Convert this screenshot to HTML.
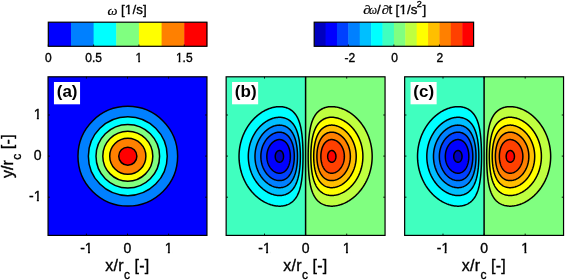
<!DOCTYPE html>
<html><head><meta charset="utf-8"><style>
html,body{margin:0;padding:0;background:#fff;width:566px;height:280px;overflow:hidden}
svg{display:block;font-family:"Liberation Sans",sans-serif;will-change:transform}
text{stroke:#000;stroke-width:0.35px}
</style></head><body>
<svg width="566" height="280" viewBox="0 0 566 280">
<rect width="566" height="280" fill="#fff"/>
<rect x="48.05" y="76.80" width="158.90" height="158.60" fill="#0000ff"/>
<circle cx="127.80" cy="156.20" r="49.83" fill="#0080ff" stroke="#000" stroke-width="1.5"/>
<circle cx="127.80" cy="156.20" r="39.43" fill="#00ffff" stroke="#000" stroke-width="1.5"/>
<circle cx="127.80" cy="156.20" r="31.80" fill="#80ff80" stroke="#000" stroke-width="1.5"/>
<circle cx="127.80" cy="156.20" r="25.01" fill="#ffff00" stroke="#000" stroke-width="1.5"/>
<circle cx="127.80" cy="156.20" r="18.07" fill="#ff8000" stroke="#000" stroke-width="1.5"/>
<circle cx="127.80" cy="156.20" r="9.07" fill="#ff0000" stroke="#000" stroke-width="1.5"/>
<rect x="226.15" y="76.80" width="79.45" height="158.60" fill="#40ffbf"/>
<rect x="305.60" y="76.80" width="79.45" height="158.60" fill="#80ff80"/>
<path d="M334.14,206.03 333.34,206.09 332.55,206.13 331.75,206.15 330.96,206.14 330.16,206.10 329.37,206.04 328.77,205.97 327.97,205.85 327.38,205.75 326.77,205.62 325.98,205.43 325.39,205.26 324.79,205.07 324.19,204.86 323.60,204.63 323.13,204.43 322.60,204.18 322.01,203.88 321.55,203.63 321.01,203.32 320.57,203.04 320.02,202.66 319.62,202.37 319.20,202.04 318.72,201.64 318.27,201.25 317.85,200.85 317.45,200.45 317.08,200.05 316.73,199.66 316.39,199.26 316.04,198.82 315.64,198.29 315.35,197.87 315.05,197.42 314.70,196.87 314.45,196.46 314.12,195.88 313.85,195.39 313.60,194.88 313.31,194.29 313.06,193.74 312.86,193.28 312.61,192.69 312.38,192.10 312.16,191.50 311.95,190.90 311.75,190.31 311.56,189.71 311.38,189.11 311.21,188.52 311.05,187.92 310.87,187.21 310.71,186.53 310.57,185.93 310.44,185.34 310.27,184.54 310.16,183.94 310.05,183.35 309.91,182.55 309.81,181.96 309.68,181.16 309.60,180.56 309.48,179.77 309.40,179.17 309.30,178.38 309.23,177.78 309.14,176.98 309.08,176.39 309.00,175.59 308.92,174.80 308.87,174.20 308.80,173.40 308.74,172.61 308.68,171.81 308.64,171.22 308.59,170.42 308.54,169.63 308.50,168.83 308.47,168.23 308.43,167.44 308.39,166.64 308.36,165.85 308.33,165.05 308.31,164.26 308.28,163.56 308.27,162.86 308.25,162.07 308.23,161.27 308.22,160.48 308.21,159.68 308.20,158.89 308.19,158.09 308.19,157.29 308.18,156.50 308.19,155.70 308.19,154.91 308.19,154.11 308.20,153.32 308.21,152.52 308.23,151.73 308.24,150.93 308.26,150.14 308.28,149.34 308.30,148.74 308.33,147.95 308.35,147.15 308.39,146.36 308.42,145.56 308.46,144.77 308.49,144.17 308.53,143.37 308.58,142.58 308.63,141.78 308.68,141.00 308.73,140.39 308.79,139.60 308.85,138.80 308.91,138.20 308.98,137.41 309.06,136.61 309.12,136.02 309.21,135.22 309.28,134.62 309.38,133.83 309.48,133.07 309.57,132.44 309.68,131.69 309.78,131.04 309.88,130.44 310.01,129.65 310.12,129.05 310.27,128.27 310.40,127.66 310.52,127.07 310.67,126.42 310.85,125.67 311.00,125.08 311.16,124.48 311.33,123.88 311.50,123.29 311.69,122.69 311.88,122.09 312.09,121.50 312.31,120.90 312.54,120.30 312.78,119.71 313.03,119.11 313.26,118.62 313.50,118.12 313.80,117.52 314.05,117.04 314.34,116.53 314.65,116.01 314.95,115.53 315.25,115.08 315.63,114.54 315.92,114.14 316.24,113.73 316.64,113.25 317.04,112.80 317.43,112.37 317.83,111.97 318.23,111.59 318.63,111.24 319.02,110.90 319.45,110.56 319.99,110.16 320.42,109.87 320.88,109.57 321.41,109.25 321.91,108.97 322.40,108.71 323.00,108.43 323.60,108.17 324.10,107.97 324.65,107.78 325.26,107.58 325.96,107.38 326.58,107.22 327.18,107.09 327.77,106.98 328.57,106.86 329.21,106.78 329.96,106.71 330.76,106.67 331.55,106.65 332.35,106.66 333.14,106.69 333.94,106.75 334.54,106.81 335.33,106.91 335.93,107.00 336.72,107.13 337.32,107.25 337.92,107.38 338.71,107.58 339.31,107.74 339.91,107.91 340.50,108.09 341.10,108.29 341.70,108.50 342.29,108.72 342.89,108.95 343.42,109.17 343.88,109.37 344.48,109.63 345.08,109.91 345.59,110.16 346.07,110.40 346.67,110.72 347.11,110.96 347.66,111.27 348.15,111.55 348.66,111.86 349.13,112.15 349.65,112.48 350.05,112.75 350.63,113.14 351.04,113.43 351.47,113.74 352.01,114.14 352.43,114.46 352.83,114.77 353.29,115.13 353.77,115.53 354.22,115.91 354.62,116.26 355.02,116.61 355.42,116.97 355.82,117.34 356.22,117.72 356.62,118.12 357.02,118.51 357.41,118.91 357.80,119.32 358.20,119.74 358.60,120.18 359.00,120.63 359.40,121.08 359.75,121.50 360.08,121.90 360.40,122.29 360.79,122.78 361.18,123.29 361.48,123.69 361.78,124.09 362.18,124.64 362.49,125.08 362.78,125.50 363.16,126.07 363.42,126.47 363.77,127.01 364.06,127.46 364.37,127.98 364.65,128.46 364.96,128.99 365.23,129.45 365.55,130.05 365.77,130.45 366.08,131.04 366.36,131.59 366.58,132.04 366.87,132.63 367.14,133.23 367.35,133.69 367.59,134.23 367.84,134.82 368.09,135.42 368.33,136.02 368.54,136.57 368.74,137.10 368.94,137.65 369.14,138.22 369.34,138.81 369.54,139.42 369.74,140.06 369.94,140.72 370.12,141.39 370.29,141.98 370.44,142.58 370.59,143.17 370.73,143.77 370.91,144.57 371.03,145.16 371.15,145.76 371.30,146.56 371.40,147.15 371.53,147.93 371.62,148.54 371.72,149.34 371.80,149.94 371.88,150.73 371.94,151.33 372.01,152.12 372.06,152.92 372.10,153.72 372.13,154.31 372.15,155.11 372.17,155.90 372.17,156.70 372.16,157.49 372.14,158.29 372.11,158.89 372.07,159.68 372.02,160.48 371.96,161.27 371.90,161.87 371.82,162.66 371.73,163.45 371.65,164.06 371.53,164.85 371.44,165.45 371.33,166.09 371.19,166.84 371.07,167.44 370.93,168.14 370.78,168.83 370.64,169.43 370.49,170.02 370.33,170.64 370.13,171.38 369.95,172.01 369.78,172.61 369.59,173.20 369.40,173.80 369.20,174.40 369.00,174.99 368.78,175.59 368.56,176.19 368.34,176.74 368.15,177.24 367.93,177.78 367.67,178.38 367.41,178.97 367.15,179.55 366.95,179.98 366.68,180.56 366.38,181.16 366.16,181.60 365.87,182.15 365.56,182.74 365.34,183.15 365.00,183.75 364.76,184.15 364.42,184.74 364.17,185.15 363.81,185.73 363.55,186.13 363.17,186.71 362.90,187.13 362.58,187.59 362.21,188.12 361.92,188.52 361.58,188.98 361.19,189.51 360.87,189.91 360.56,190.31 360.19,190.77 359.79,191.25 359.41,191.70 359.06,192.10 358.71,192.50 358.35,192.89 357.98,193.29 357.61,193.69 357.21,194.10 356.81,194.50 356.41,194.89 356.01,195.28 355.58,195.68 355.15,196.08 354.70,196.47 354.24,196.87 353.83,197.22 353.43,197.55 353.03,197.87 352.53,198.26 352.04,198.64 351.64,198.94 351.20,199.26 350.64,199.65 350.25,199.92 349.75,200.25 349.25,200.57 348.81,200.85 348.26,201.18 347.81,201.44 347.26,201.76 346.74,202.04 346.27,202.29 345.67,202.60 345.19,202.84 344.68,203.08 344.08,203.35 343.49,203.61 342.94,203.83 342.43,204.03 341.89,204.23 341.30,204.44 340.70,204.64 340.10,204.83 339.45,205.02 338.71,205.22 338.12,205.37 337.52,205.51 336.92,205.63 336.13,205.77 335.53,205.87 334.73,205.97Z" fill="#bfff40" stroke="#000" stroke-width="1.5"/>
<path d="M281.99,206.02 282.63,205.94 283.43,205.82 284.02,205.71 284.62,205.58 285.24,205.42 285.94,205.22 286.55,205.02 287.10,204.83 287.60,204.63 288.20,204.37 288.80,204.09 289.29,203.83 289.79,203.55 290.32,203.23 290.78,202.93 291.21,202.64 291.75,202.24 292.18,201.90 292.57,201.56 292.97,201.21 293.37,200.83 293.77,200.43 294.16,200.00 294.56,199.55 294.96,199.07 295.28,198.66 295.57,198.26 295.95,197.72 296.25,197.27 296.55,196.79 296.86,196.27 297.15,195.76 297.40,195.28 297.70,194.68 297.94,194.18 298.17,193.69 298.42,193.09 298.66,192.50 298.89,191.90 299.11,191.30 299.32,190.71 299.51,190.11 299.70,189.51 299.87,188.92 300.04,188.32 300.20,187.72 300.35,187.13 300.53,186.38 300.68,185.73 300.80,185.14 300.93,184.53 301.08,183.75 301.19,183.15 301.32,182.36 301.42,181.76 301.52,181.11 301.63,180.36 301.72,179.73 301.82,178.97 301.92,178.18 301.99,177.58 302.08,176.78 302.14,176.19 302.22,175.39 302.29,174.60 302.35,174.00 302.41,173.20 302.47,172.41 302.52,171.80 302.57,171.02 302.62,170.22 302.67,169.43 302.71,168.63 302.74,168.03 302.78,167.24 302.81,166.44 302.85,165.65 302.87,164.85 302.90,164.06 302.92,163.46 302.94,162.66 302.96,161.87 302.97,161.07 302.99,160.28 303.00,159.48 303.01,158.69 303.01,157.89 303.01,157.10 303.02,156.30 303.01,155.51 303.01,154.71 303.00,153.91 302.99,153.12 302.98,152.32 302.97,151.53 302.95,150.73 302.93,149.94 302.92,149.24 302.89,148.54 302.87,147.75 302.84,146.95 302.81,146.16 302.77,145.36 302.73,144.57 302.70,143.97 302.66,143.17 302.61,142.38 302.56,141.58 302.52,140.99 302.46,140.19 302.40,139.40 302.33,138.60 302.28,138.00 302.20,137.21 302.12,136.41 302.06,135.82 301.97,135.02 301.90,134.42 301.80,133.63 301.72,133.03 301.60,132.24 301.52,131.64 301.39,130.84 301.29,130.25 301.15,129.45 301.04,128.86 300.93,128.26 300.76,127.46 300.63,126.87 300.49,126.27 300.33,125.59 300.15,124.88 299.99,124.28 299.82,123.69 299.64,123.09 299.45,122.49 299.25,121.90 299.04,121.30 298.82,120.70 298.59,120.11 298.34,119.52 298.14,119.06 297.89,118.51 297.60,117.92 297.35,117.41 297.08,116.92 296.75,116.34 296.50,115.93 296.15,115.38 295.85,114.93 295.56,114.51 295.16,113.98 294.81,113.54 294.47,113.14 294.12,112.75 293.75,112.35 293.35,111.95 292.93,111.55 292.48,111.16 292.00,110.76 291.58,110.43 291.18,110.14 290.63,109.76 290.19,109.48 289.65,109.17 289.19,108.92 288.60,108.62 288.07,108.37 287.60,108.17 287.01,107.94 286.41,107.73 285.81,107.54 285.22,107.37 284.43,107.18 283.82,107.05 283.23,106.95 282.43,106.83 281.83,106.76 281.04,106.70 280.24,106.66 279.45,106.65 278.65,106.67 277.86,106.71 277.06,106.77 276.47,106.83 275.67,106.93 275.07,107.03 274.28,107.17 273.68,107.29 273.08,107.43 272.49,107.58 271.75,107.78 271.10,107.97 270.50,108.16 269.90,108.36 269.31,108.57 268.77,108.77 268.26,108.97 267.71,109.19 267.12,109.45 266.52,109.72 266.01,109.96 265.53,110.20 264.93,110.51 264.46,110.76 263.94,111.04 263.39,111.36 262.94,111.62 262.39,111.95 261.95,112.23 261.45,112.55 260.95,112.88 260.56,113.15 260.00,113.54 259.56,113.86 259.16,114.16 258.67,114.54 258.17,114.93 257.77,115.25 257.37,115.58 256.96,115.93 256.50,116.33 256.05,116.72 255.62,117.12 255.19,117.52 254.79,117.91 254.39,118.30 253.99,118.70 253.59,119.11 253.22,119.51 252.85,119.91 252.49,120.30 252.14,120.70 251.79,121.10 251.41,121.55 251.01,122.03 250.64,122.49 250.33,122.89 250.01,123.29 249.62,123.82 249.28,124.28 248.99,124.68 248.62,125.21 248.30,125.67 248.03,126.09 247.65,126.67 247.39,127.07 247.03,127.65 246.78,128.06 246.44,128.65 246.20,129.05 245.86,129.65 245.64,130.06 245.33,130.65 245.04,131.20 244.82,131.64 244.52,132.24 244.25,132.82 244.05,133.25 243.79,133.83 243.53,134.42 243.27,135.02 243.05,135.56 242.86,136.06 242.64,136.61 242.42,137.21 242.20,137.81 242.00,138.40 241.80,139.00 241.61,139.60 241.42,140.19 241.25,140.79 241.07,141.42 240.87,142.16 240.71,142.78 240.56,143.37 240.42,143.97 240.27,144.66 240.13,145.36 240.01,145.96 239.87,146.71 239.76,147.35 239.67,147.95 239.55,148.74 239.47,149.35 239.38,150.14 239.30,150.93 239.24,151.53 239.18,152.32 239.13,153.12 239.09,153.91 239.06,154.51 239.04,155.31 239.03,156.10 239.03,156.90 239.05,157.69 239.07,158.49 239.10,159.08 239.14,159.88 239.19,160.68 239.26,161.47 239.32,162.07 239.40,162.86 239.48,163.46 239.58,164.26 239.67,164.87 239.80,165.65 239.90,166.24 240.05,167.04 240.17,167.64 240.29,168.23 240.47,169.03 240.61,169.63 240.76,170.22 240.91,170.82 241.08,171.41 241.26,172.08 241.46,172.74 241.66,173.38 241.86,173.99 242.06,174.58 242.26,175.15 242.46,175.70 242.66,176.23 242.87,176.78 243.11,177.38 243.36,177.98 243.61,178.57 243.85,179.11 244.06,179.57 244.33,180.17 244.62,180.76 244.84,181.21 245.12,181.76 245.43,182.35 245.65,182.75 245.97,183.35 246.24,183.81 246.55,184.34 246.83,184.82 247.14,185.34 247.43,185.79 247.78,186.33 248.04,186.73 248.42,187.30 248.71,187.72 249.02,188.16 249.42,188.71 249.72,189.11 250.02,189.51 250.41,190.02 250.80,190.51 251.12,190.90 251.45,191.30 251.80,191.72 252.20,192.17 252.60,192.62 253.00,193.06 253.40,193.48 253.79,193.89 254.18,194.29 254.58,194.68 254.98,195.08 255.38,195.46 255.78,195.83 256.18,196.19 256.58,196.54 256.98,196.89 257.43,197.27 257.91,197.67 258.37,198.03 258.77,198.34 259.19,198.66 259.73,199.06 260.16,199.37 260.57,199.66 261.15,200.05 261.55,200.32 262.07,200.65 262.54,200.94 263.05,201.25 263.54,201.53 264.09,201.84 264.53,202.08 265.13,202.40 265.61,202.64 266.12,202.89 266.72,203.17 267.32,203.43 267.78,203.63 268.31,203.85 268.91,204.08 269.50,204.30 270.10,204.51 270.70,204.71 271.29,204.89 271.89,205.06 272.49,205.22 273.28,205.42 273.88,205.55 274.48,205.67 275.27,205.80 275.87,205.89 276.66,205.99 277.26,206.05 278.06,206.11 278.85,206.14 279.65,206.15 280.44,206.13 281.24,206.09Z" fill="#00ffff" stroke="#000" stroke-width="1.5"/>
<path d="M332.95,195.49 332.15,195.52 331.35,195.52 330.56,195.49 329.96,195.45 329.17,195.36 328.57,195.26 327.77,195.11 327.18,194.97 326.58,194.80 325.98,194.61 325.39,194.39 324.79,194.15 324.22,193.89 323.80,193.68 323.20,193.35 322.76,193.09 322.21,192.74 321.81,192.46 321.32,192.10 320.82,191.70 320.42,191.35 320.02,190.98 319.62,190.59 319.22,190.18 318.83,189.73 318.47,189.31 318.15,188.92 317.83,188.49 317.43,187.94 317.15,187.52 316.84,187.03 316.54,186.53 316.24,186.01 315.98,185.53 315.68,184.94 315.44,184.46 315.21,183.94 314.95,183.35 314.70,182.75 314.47,182.15 314.25,181.56 314.05,180.99 313.85,180.40 313.66,179.77 313.48,179.17 313.31,178.57 313.15,177.98 313.00,177.38 312.85,176.78 312.67,175.99 312.55,175.39 312.42,174.80 312.27,174.00 312.17,173.40 312.06,172.81 311.94,172.01 311.85,171.41 311.73,170.62 311.66,170.02 311.56,169.23 311.47,168.43 311.40,167.84 311.33,167.04 311.27,166.40 311.21,165.65 311.14,164.85 311.09,164.06 311.05,163.46 311.01,162.66 310.97,161.87 310.94,161.07 310.91,160.28 310.89,159.48 310.87,158.69 310.86,158.09 310.85,157.29 310.85,156.50 310.85,155.70 310.86,154.91 310.87,154.12 310.88,153.52 310.90,152.72 310.93,151.93 310.96,151.13 311.00,150.33 311.04,149.54 311.08,148.94 311.13,148.15 311.19,147.35 311.25,146.56 311.31,145.96 311.38,145.16 311.47,144.37 311.53,143.77 311.63,142.98 311.71,142.38 311.82,141.58 311.91,140.99 312.03,140.19 312.13,139.60 312.26,138.85 312.39,138.20 312.50,137.61 312.66,136.87 312.81,136.21 312.95,135.62 313.10,135.02 313.26,134.42 313.46,133.71 313.65,133.04 313.84,132.44 314.04,131.84 314.25,131.24 314.45,130.70 314.65,130.18 314.86,129.65 315.12,129.05 315.39,128.46 315.64,127.93 315.88,127.46 316.20,126.87 316.44,126.44 316.78,125.87 317.04,125.46 317.42,124.88 317.70,124.48 318.03,124.04 318.43,123.54 318.80,123.09 319.16,122.69 319.54,122.29 319.94,121.90 320.37,121.50 320.81,121.11 321.21,120.79 321.61,120.48 322.14,120.11 322.60,119.80 323.09,119.51 323.60,119.23 324.19,118.92 324.65,118.71 325.19,118.49 325.79,118.26 326.38,118.06 326.98,117.89 327.65,117.72 328.37,117.57 328.97,117.47 329.76,117.37 330.36,117.32 331.16,117.28 331.95,117.28 332.75,117.30 333.34,117.34 334.14,117.42 334.85,117.52 335.53,117.64 336.13,117.75 336.84,117.92 337.52,118.09 338.12,118.27 338.71,118.46 339.31,118.66 339.91,118.88 340.48,119.11 340.95,119.31 341.50,119.56 342.09,119.84 342.63,120.11 343.09,120.35 343.68,120.68 344.08,120.90 344.68,121.26 345.08,121.51 345.66,121.90 346.07,122.17 346.53,122.49 347.07,122.89 347.46,123.19 347.86,123.50 348.34,123.88 348.81,124.28 349.25,124.67 349.65,125.02 350.05,125.39 350.45,125.77 350.84,126.16 351.24,126.57 351.64,126.98 352.04,127.41 352.43,127.85 352.79,128.26 353.13,128.66 353.45,129.05 353.83,129.52 354.22,130.04 354.53,130.45 354.82,130.84 355.22,131.40 355.52,131.84 355.82,132.28 356.17,132.83 356.42,133.23 356.78,133.83 357.02,134.23 357.36,134.82 357.61,135.27 357.90,135.82 358.20,136.41 358.40,136.81 358.69,137.41 358.96,138.00 359.20,138.53 359.40,139.00 359.65,139.60 359.88,140.19 360.11,140.79 360.33,141.39 360.53,141.98 360.73,142.58 360.92,143.17 361.10,143.77 361.27,144.37 361.43,144.96 361.58,145.57 361.77,146.36 361.90,146.95 362.03,147.55 362.18,148.35 362.28,148.94 362.38,149.56 362.49,150.33 362.58,151.02 362.66,151.73 362.73,152.52 362.78,153.12 362.83,153.91 362.87,154.71 362.89,155.51 362.90,156.30 362.89,157.10 362.87,157.89 362.84,158.69 362.79,159.48 362.75,160.08 362.68,160.87 362.59,161.67 362.52,162.27 362.41,163.06 362.31,163.66 362.18,164.44 362.06,165.05 361.94,165.65 361.78,166.39 361.63,167.04 361.48,167.64 361.32,168.23 361.16,168.83 360.98,169.43 360.79,170.05 360.59,170.66 360.39,171.24 360.18,171.81 359.96,172.41 359.73,173.01 359.48,173.60 359.23,174.20 359.00,174.72 358.78,175.19 358.50,175.79 358.20,176.39 358.00,176.78 357.69,177.38 357.41,177.89 357.13,178.38 356.81,178.93 356.54,179.37 356.21,179.90 355.92,180.36 355.62,180.82 355.25,181.36 354.97,181.76 354.62,182.23 354.24,182.75 353.93,183.15 353.61,183.55 353.23,184.02 352.83,184.49 352.44,184.94 352.09,185.34 351.72,185.73 351.34,186.13 350.95,186.53 350.55,186.93 350.14,187.32 349.71,187.72 349.27,188.12 348.86,188.48 348.46,188.82 348.06,189.14 347.59,189.51 347.07,189.91 346.67,190.21 346.25,190.51 345.67,190.90 345.28,191.16 344.74,191.50 344.28,191.78 343.73,192.10 343.29,192.35 342.69,192.66 342.23,192.89 341.70,193.15 341.10,193.42 340.50,193.68 339.98,193.89 339.45,194.09 338.89,194.29 338.27,194.48 337.60,194.68 336.92,194.86 336.33,195.00 335.73,195.13 334.93,195.27 334.34,195.35 333.54,195.44Z" fill="#ffff00" stroke="#000" stroke-width="1.5"/>
<path d="M280.85,195.48 281.64,195.41 282.43,195.30 283.03,195.19 283.62,195.06 284.33,194.88 284.99,194.68 285.57,194.48 286.08,194.29 286.61,194.06 287.20,193.78 287.76,193.49 288.20,193.24 288.76,192.89 289.19,192.60 289.62,192.30 290.13,191.90 290.59,191.52 290.98,191.17 291.38,190.79 291.78,190.39 292.18,189.96 292.57,189.51 292.89,189.11 293.20,188.72 293.57,188.22 293.91,187.72 294.17,187.32 294.54,186.73 294.78,186.33 295.11,185.73 295.36,185.26 295.62,184.74 295.90,184.14 296.15,183.58 296.35,183.11 296.58,182.55 296.81,181.96 297.02,181.36 297.23,180.76 297.42,180.17 297.60,179.57 297.78,178.97 297.94,178.38 298.14,177.62 298.30,176.98 298.44,176.39 298.57,175.79 298.74,174.99 298.85,174.40 298.96,173.80 299.10,173.01 299.20,172.41 299.32,171.61 299.41,171.02 299.52,170.22 299.59,169.63 299.69,168.83 299.75,168.23 299.84,167.44 299.91,166.64 299.96,166.05 300.03,165.25 300.08,164.45 300.13,163.72 300.17,163.06 300.21,162.27 300.25,161.47 300.28,160.68 300.30,159.88 300.32,159.08 300.33,158.49 300.34,157.69 300.35,156.90 300.35,156.10 300.35,155.31 300.34,154.51 300.33,153.91 300.31,153.12 300.28,152.32 300.25,151.53 300.22,150.73 300.18,149.94 300.13,149.14 300.10,148.54 300.04,147.75 299.98,146.95 299.93,146.36 299.85,145.56 299.78,144.77 299.71,144.17 299.62,143.37 299.53,142.70 299.44,141.98 299.34,141.26 299.23,140.59 299.14,139.99 299.00,139.20 298.89,138.60 298.74,137.82 298.61,137.21 298.48,136.61 298.34,135.99 298.15,135.22 298.00,134.62 297.83,134.03 297.66,133.43 297.48,132.83 297.29,132.24 297.09,131.64 296.88,131.04 296.65,130.45 296.42,129.85 296.17,129.25 295.95,128.77 295.72,128.26 295.42,127.66 295.16,127.16 294.89,126.67 294.56,126.10 294.30,125.67 293.97,125.16 293.64,124.68 293.35,124.28 292.97,123.78 292.57,123.30 292.22,122.89 291.85,122.49 291.47,122.09 291.05,121.70 290.61,121.30 290.19,120.95 289.79,120.63 289.34,120.30 288.80,119.93 288.40,119.68 287.80,119.33 287.38,119.11 286.81,118.83 286.21,118.57 285.61,118.33 285.02,118.13 284.42,117.94 283.82,117.78 283.23,117.65 282.53,117.52 281.83,117.42 281.04,117.34 280.44,117.30 279.65,117.27 278.85,117.29 278.14,117.32 277.46,117.38 276.66,117.47 276.07,117.57 275.27,117.71 274.68,117.84 274.08,117.99 273.48,118.15 272.89,118.33 272.29,118.52 271.69,118.73 271.10,118.96 270.50,119.20 269.90,119.46 269.38,119.71 268.91,119.94 268.31,120.24 267.82,120.50 267.32,120.79 266.79,121.10 266.32,121.39 265.84,121.70 265.33,122.04 264.93,122.31 264.40,122.69 263.94,123.04 263.54,123.34 263.11,123.69 262.63,124.08 262.16,124.48 261.75,124.84 261.35,125.21 260.95,125.58 260.56,125.97 260.16,126.36 259.76,126.77 259.36,127.19 258.96,127.63 258.58,128.06 258.24,128.46 257.91,128.86 257.57,129.27 257.17,129.78 256.81,130.25 256.52,130.65 256.18,131.12 255.82,131.64 255.55,132.04 255.19,132.59 254.90,133.03 254.59,133.54 254.30,134.03 253.99,134.56 253.73,135.02 253.41,135.62 253.20,136.02 252.90,136.61 252.61,137.21 252.40,137.64 252.15,138.20 251.89,138.80 251.63,139.40 251.41,139.96 251.21,140.47 251.01,141.01 250.80,141.58 250.60,142.18 250.40,142.78 250.21,143.39 250.01,144.07 249.82,144.77 249.67,145.36 249.52,145.96 249.39,146.56 249.22,147.33 249.10,147.95 248.99,148.54 248.86,149.34 248.77,149.94 248.66,150.73 248.59,151.33 248.50,152.12 248.44,152.92 248.39,153.52 248.35,154.31 248.32,155.11 248.31,155.90 248.30,156.70 248.32,157.49 248.34,158.29 248.38,159.08 248.42,159.71 248.49,160.48 248.56,161.27 248.63,161.87 248.74,162.66 248.82,163.26 248.95,164.06 249.06,164.65 249.22,165.45 249.34,166.05 249.48,166.64 249.62,167.24 249.82,168.00 249.99,168.63 250.16,169.23 250.34,169.82 250.53,170.42 250.73,171.02 250.94,171.61 251.16,172.21 251.39,172.81 251.61,173.33 251.80,173.81 252.06,174.40 252.33,174.99 252.60,175.58 252.80,175.99 253.10,176.59 253.40,177.16 253.62,177.58 253.95,178.18 254.19,178.59 254.54,179.17 254.79,179.58 255.15,180.17 255.41,180.56 255.78,181.11 256.09,181.56 256.38,181.96 256.78,182.50 257.12,182.95 257.43,183.35 257.77,183.77 258.17,184.25 258.57,184.72 258.94,185.14 259.30,185.53 259.67,185.93 260.05,186.33 260.45,186.73 260.86,187.13 261.28,187.52 261.71,187.92 262.15,188.31 262.54,188.65 262.94,188.98 263.36,189.31 263.87,189.71 264.33,190.06 264.73,190.35 265.24,190.71 265.73,191.03 266.15,191.30 266.72,191.66 267.12,191.90 267.71,192.24 268.19,192.50 268.71,192.76 269.31,193.06 269.81,193.29 270.30,193.51 270.90,193.76 271.49,193.99 272.09,194.21 272.69,194.41 273.28,194.59 273.88,194.76 274.48,194.91 275.24,195.08 275.87,195.20 276.47,195.30 277.26,195.40 278.06,195.47 278.65,195.51 279.45,195.53 280.24,195.51Z" fill="#00bfff" stroke="#000" stroke-width="1.5"/>
<path d="M333.94,187.53 333.14,187.62 332.35,187.67 331.55,187.68 330.76,187.65 329.96,187.58 329.37,187.50 328.57,187.35 327.97,187.21 327.38,187.04 326.78,186.84 326.18,186.61 325.59,186.35 325.15,186.13 324.59,185.83 324.10,185.53 323.60,185.20 323.20,184.92 322.71,184.54 322.24,184.14 321.81,183.75 321.41,183.36 321.01,182.95 320.66,182.55 320.32,182.15 320.01,181.76 319.62,181.24 319.29,180.76 319.02,180.36 318.66,179.77 318.43,179.37 318.10,178.77 317.83,178.26 317.60,177.78 317.32,177.18 317.06,176.59 316.84,176.04 316.64,175.52 316.44,174.98 316.24,174.40 316.04,173.80 315.84,173.16 315.64,172.47 315.47,171.81 315.32,171.22 315.17,170.62 315.04,170.02 314.87,169.23 314.76,168.63 314.65,168.02 314.52,167.24 314.42,166.64 314.31,165.85 314.23,165.25 314.14,164.45 314.05,163.66 314.00,163.06 313.93,162.27 313.87,161.47 313.83,160.87 313.79,160.08 313.75,159.28 313.73,158.49 313.71,157.69 313.70,156.90 313.70,156.10 313.70,155.31 313.72,154.51 313.74,153.72 313.78,152.92 313.82,152.12 313.85,151.53 313.91,150.73 313.98,149.94 314.05,149.14 314.12,148.54 314.21,147.75 314.28,147.15 314.39,146.36 314.49,145.76 314.62,144.96 314.72,144.37 314.85,143.71 315.00,142.98 315.13,142.38 315.27,141.78 315.44,141.08 315.63,140.39 315.80,139.79 315.98,139.20 316.17,138.60 316.37,138.00 316.59,137.41 316.82,136.81 317.04,136.27 317.23,135.81 317.50,135.22 317.79,134.62 318.03,134.15 318.31,133.63 318.63,133.09 318.90,132.63 319.22,132.14 319.57,131.64 319.86,131.24 320.22,130.78 320.61,130.30 321.01,129.85 321.39,129.45 321.80,129.05 322.21,128.68 322.60,128.35 323.00,128.03 323.50,127.66 324.00,127.33 324.43,127.07 324.99,126.75 325.55,126.47 325.99,126.27 326.58,126.03 327.18,125.82 327.77,125.64 328.44,125.48 329.17,125.33 329.76,125.24 330.56,125.16 331.35,125.12 332.15,125.12 332.95,125.17 333.74,125.25 334.34,125.33 335.10,125.48 335.73,125.62 336.33,125.77 336.92,125.95 337.52,126.15 338.12,126.37 338.71,126.61 339.30,126.87 339.72,127.07 340.30,127.36 340.87,127.66 341.30,127.91 341.89,128.26 342.29,128.52 342.80,128.86 343.29,129.20 343.68,129.49 344.15,129.85 344.64,130.25 345.08,130.61 345.47,130.96 345.87,131.33 346.27,131.70 346.67,132.10 347.07,132.51 347.46,132.93 347.86,133.37 348.25,133.83 348.58,134.23 348.90,134.62 349.25,135.08 349.65,135.61 349.94,136.02 350.25,136.46 350.61,137.01 350.87,137.41 351.23,138.00 351.47,138.40 351.80,139.00 352.04,139.43 352.33,139.99 352.63,140.59 352.83,141.01 353.09,141.58 353.35,142.18 353.60,142.78 353.83,143.35 354.03,143.89 354.22,144.45 354.42,145.04 354.62,145.67 354.82,146.35 354.99,146.95 355.14,147.55 355.28,148.15 355.42,148.76 355.57,149.54 355.68,150.14 355.81,150.93 355.89,151.53 355.99,152.32 356.05,152.92 356.12,153.72 356.17,154.51 356.20,155.31 356.21,156.10 356.21,156.70 356.20,157.29 356.18,158.09 356.13,158.89 356.07,159.68 356.01,160.28 355.92,161.07 355.82,161.83 355.72,162.47 355.61,163.06 355.46,163.86 355.33,164.45 355.19,165.05 355.02,165.72 354.82,166.44 354.65,167.04 354.46,167.64 354.27,168.23 354.06,168.83 353.83,169.43 353.63,169.95 353.43,170.44 353.18,171.02 352.91,171.61 352.63,172.20 352.43,172.61 352.13,173.20 351.84,173.74 351.58,174.20 351.24,174.78 350.99,175.19 350.64,175.74 350.35,176.19 350.05,176.63 349.66,177.18 349.36,177.58 349.05,177.98 348.66,178.48 348.26,178.96 347.91,179.37 347.55,179.77 347.19,180.17 346.80,180.56 346.41,180.96 345.99,181.36 345.56,181.76 345.11,182.15 344.68,182.52 344.28,182.85 343.88,183.16 343.36,183.55 342.89,183.88 342.49,184.15 341.89,184.54 341.50,184.78 340.90,185.12 340.50,185.34 339.91,185.64 339.31,185.93 338.85,186.13 338.31,186.35 337.72,186.58 337.12,186.78 336.52,186.97 335.93,187.13 335.13,187.32 334.54,187.43Z" fill="#ffbf00" stroke="#000" stroke-width="1.5"/>
<path d="M281.69,187.52 282.43,187.40 283.03,187.26 283.62,187.10 284.22,186.91 284.82,186.69 285.41,186.44 286.01,186.15 286.42,185.93 287.01,185.59 287.41,185.34 287.97,184.94 288.40,184.61 288.80,184.29 289.19,183.94 289.61,183.55 290.00,183.15 290.39,182.73 290.78,182.27 291.18,181.77 291.49,181.36 291.78,180.95 292.17,180.36 292.42,179.97 292.77,179.37 293.00,178.97 293.31,178.38 293.57,177.85 293.79,177.38 294.05,176.78 294.30,176.19 294.54,175.59 294.76,174.99 294.96,174.41 295.16,173.80 295.34,173.20 295.52,172.61 295.68,172.01 295.83,171.41 295.98,170.82 296.15,170.05 296.29,169.43 296.40,168.83 296.55,168.03 296.65,167.44 296.75,166.81 296.86,166.05 296.95,165.40 297.04,164.65 297.13,163.86 297.19,163.26 297.26,162.47 297.32,161.67 297.36,161.07 297.40,160.28 297.44,159.48 297.47,158.69 297.49,157.89 297.50,157.10 297.50,156.30 297.50,155.51 297.48,154.71 297.46,153.91 297.43,153.12 297.39,152.32 297.35,151.55 297.30,150.93 297.24,150.14 297.17,149.34 297.11,148.74 297.02,147.95 296.94,147.35 296.83,146.56 296.75,145.96 296.62,145.16 296.51,144.57 296.36,143.77 296.24,143.17 296.12,142.58 295.95,141.88 295.78,141.19 295.63,140.59 295.46,139.99 295.28,139.40 295.10,138.80 294.90,138.20 294.69,137.61 294.46,137.01 294.22,136.41 293.97,135.82 293.77,135.37 293.51,134.82 293.21,134.23 292.97,133.78 292.66,133.23 292.37,132.76 292.04,132.24 291.77,131.84 291.38,131.29 291.04,130.84 290.71,130.45 290.37,130.05 289.99,129.64 289.59,129.24 289.19,128.86 288.73,128.46 288.24,128.06 287.80,127.74 287.40,127.46 286.81,127.09 286.41,126.86 285.81,126.55 285.22,126.27 284.72,126.07 284.18,125.87 283.54,125.67 282.83,125.49 282.23,125.37 281.64,125.27 280.84,125.18 280.04,125.13 279.25,125.12 278.45,125.15 277.66,125.22 277.06,125.30 276.27,125.44 275.67,125.57 275.07,125.72 274.48,125.89 273.88,126.08 273.28,126.29 272.69,126.53 272.09,126.78 271.49,127.06 271.08,127.27 270.50,127.57 269.98,127.86 269.50,128.14 269.00,128.46 268.51,128.78 268.11,129.06 267.57,129.45 267.12,129.80 266.72,130.11 266.32,130.45 265.86,130.84 265.42,131.24 265.00,131.64 264.59,132.04 264.20,132.44 263.83,132.83 263.47,133.23 263.12,133.63 262.74,134.07 262.34,134.56 261.99,135.02 261.69,135.42 261.35,135.89 260.98,136.41 260.72,136.81 260.36,137.37 260.09,137.81 259.76,138.36 259.51,138.80 259.18,139.40 258.96,139.80 258.67,140.39 258.38,140.99 258.17,141.45 257.93,141.98 257.68,142.58 257.44,143.17 257.22,143.77 257.00,144.37 256.80,144.96 256.61,145.56 256.43,146.16 256.27,146.75 256.11,147.35 255.96,147.95 255.79,148.74 255.66,149.34 255.55,149.94 255.42,150.73 255.33,151.33 255.23,152.12 255.17,152.72 255.10,153.52 255.04,154.31 255.01,155.11 254.99,155.90 254.99,156.50 254.99,157.10 255.02,157.89 255.06,158.69 255.11,159.48 255.19,160.25 255.26,160.87 255.36,161.67 255.45,162.27 255.58,163.03 255.70,163.66 255.83,164.26 255.98,164.93 256.16,165.65 256.32,166.24 256.49,166.84 256.67,167.44 256.87,168.03 257.07,168.63 257.29,169.23 257.52,169.82 257.76,170.42 257.97,170.91 258.20,171.41 258.47,172.01 258.77,172.61 258.97,173.01 259.29,173.60 259.56,174.10 259.85,174.60 260.16,175.11 260.46,175.59 260.75,176.04 261.12,176.59 261.40,176.98 261.75,177.46 262.14,177.98 262.46,178.38 262.78,178.77 263.14,179.20 263.54,179.65 263.94,180.08 264.33,180.50 264.73,180.90 265.13,181.29 265.53,181.66 265.92,182.01 266.32,182.36 266.80,182.75 267.31,183.15 267.71,183.46 268.12,183.75 268.70,184.14 269.11,184.41 269.64,184.74 270.10,185.01 270.69,185.34 271.10,185.54 271.69,185.84 272.29,186.11 272.83,186.33 273.35,186.53 273.91,186.73 274.53,186.93 275.25,187.13 275.87,187.27 276.47,187.40 277.25,187.52 277.86,187.60 278.65,187.66 279.45,187.68 280.24,187.66 281.04,187.61Z" fill="#0080ff" stroke="#000" stroke-width="1.5"/>
<path d="M332.75,180.58 331.95,180.62 331.16,180.61 330.51,180.56 329.76,180.46 329.17,180.35 328.46,180.17 327.84,179.97 327.32,179.77 326.78,179.53 326.18,179.22 325.75,178.97 325.19,178.61 324.79,178.33 324.34,177.98 323.88,177.58 323.45,177.18 323.06,176.78 322.70,176.39 322.36,175.99 322.01,175.54 321.61,175.00 321.34,174.60 321.01,174.09 320.72,173.60 320.42,173.05 320.19,172.61 319.90,172.01 319.63,171.41 319.42,170.93 319.22,170.42 319.00,169.82 318.79,169.23 318.60,168.63 318.42,168.03 318.23,167.34 318.05,166.64 317.91,166.05 317.78,165.45 317.63,164.68 317.52,164.06 317.43,163.46 317.31,162.66 317.23,162.07 317.15,161.27 317.07,160.48 317.02,159.88 316.97,159.08 316.94,158.29 316.91,157.49 316.90,156.70 316.90,155.90 316.92,155.11 316.94,154.31 316.98,153.52 317.04,152.77 317.09,152.12 317.17,151.33 317.23,150.73 317.34,149.94 317.43,149.29 317.56,148.54 317.67,147.95 317.83,147.15 317.96,146.56 318.10,145.96 318.25,145.36 318.43,144.74 318.63,144.08 318.83,143.47 319.02,142.90 319.22,142.37 319.46,141.78 319.71,141.19 319.99,140.59 320.22,140.13 320.50,139.60 320.81,139.04 321.08,138.60 321.41,138.09 321.75,137.61 322.04,137.21 322.40,136.76 322.80,136.29 323.20,135.87 323.60,135.48 324.00,135.11 324.39,134.78 324.86,134.42 325.39,134.05 325.79,133.81 326.38,133.47 326.87,133.23 327.38,133.01 327.97,132.79 328.57,132.60 329.24,132.44 329.96,132.30 330.56,132.23 331.35,132.18 332.15,132.19 332.90,132.24 333.54,132.32 334.23,132.44 334.93,132.60 335.53,132.76 336.13,132.96 336.72,133.18 337.31,133.43 337.74,133.63 338.31,133.92 338.87,134.23 339.31,134.49 339.83,134.82 340.30,135.15 340.70,135.44 341.19,135.82 341.67,136.21 342.09,136.58 342.49,136.95 342.89,137.34 343.29,137.74 343.68,138.17 344.06,138.60 344.39,139.00 344.71,139.40 345.08,139.87 345.45,140.39 345.72,140.79 346.07,141.32 346.36,141.78 346.67,142.30 346.93,142.78 347.25,143.37 347.46,143.79 347.74,144.37 348.01,144.96 348.26,145.56 348.46,146.07 348.66,146.61 348.86,147.18 349.05,147.80 349.25,148.47 349.43,149.14 349.58,149.74 349.71,150.33 349.85,151.02 349.97,151.73 350.06,152.32 350.16,153.12 350.24,153.91 350.28,154.51 350.33,155.31 350.34,156.10 350.34,156.90 350.32,157.69 350.27,158.49 350.22,159.08 350.14,159.88 350.05,160.57 349.94,161.27 349.83,161.87 349.67,162.66 349.53,163.26 349.38,163.86 349.22,164.45 349.04,165.05 348.85,165.65 348.64,166.24 348.41,166.84 348.17,167.44 347.92,168.03 347.66,168.59 347.45,169.03 347.15,169.63 346.87,170.15 346.60,170.62 346.27,171.17 345.99,171.61 345.67,172.09 345.31,172.61 345.02,173.01 344.68,173.45 344.28,173.94 343.89,174.40 343.53,174.80 343.15,175.19 342.76,175.59 342.34,175.99 341.90,176.39 341.50,176.73 341.10,177.06 340.68,177.38 340.12,177.78 339.71,178.06 339.20,178.38 338.71,178.66 338.14,178.97 337.72,179.18 337.12,179.45 336.52,179.69 335.93,179.91 335.33,180.09 334.73,180.25 334.14,180.38 333.34,180.51Z" fill="#ff8000" stroke="#000" stroke-width="1.5"/>
<path d="M280.69,180.56 281.44,180.46 282.03,180.35 282.74,180.17 283.36,179.97 283.88,179.77 284.42,179.53 285.02,179.22 285.45,178.97 286.01,178.61 286.41,178.33 286.86,177.98 287.32,177.58 287.75,177.18 288.14,176.78 288.50,176.39 288.84,175.99 289.19,175.54 289.59,175.00 289.86,174.60 290.19,174.09 290.48,173.60 290.78,173.05 291.01,172.61 291.30,172.01 291.57,171.41 291.78,170.93 291.98,170.42 292.20,169.82 292.41,169.23 292.60,168.63 292.78,168.03 292.97,167.34 293.15,166.64 293.29,166.05 293.42,165.45 293.57,164.68 293.68,164.06 293.77,163.46 293.89,162.66 293.97,162.07 294.05,161.27 294.13,160.48 294.18,159.88 294.23,159.08 294.26,158.29 294.29,157.49 294.30,156.70 294.30,155.90 294.28,155.11 294.26,154.31 294.22,153.52 294.16,152.77 294.11,152.12 294.03,151.33 293.97,150.73 293.86,149.94 293.77,149.29 293.64,148.54 293.53,147.95 293.37,147.15 293.24,146.56 293.10,145.96 292.95,145.36 292.77,144.74 292.57,144.08 292.37,143.47 292.18,142.90 291.98,142.37 291.74,141.78 291.49,141.19 291.21,140.59 290.98,140.13 290.70,139.60 290.39,139.04 290.12,138.60 289.79,138.09 289.45,137.61 289.16,137.21 288.80,136.76 288.40,136.29 288.00,135.87 287.60,135.48 287.20,135.11 286.81,134.78 286.34,134.42 285.81,134.05 285.41,133.81 284.82,133.47 284.33,133.23 283.82,133.01 283.23,132.79 282.63,132.60 281.96,132.44 281.24,132.30 280.64,132.23 279.85,132.18 279.05,132.19 278.30,132.24 277.66,132.32 276.97,132.44 276.27,132.60 275.67,132.76 275.07,132.96 274.48,133.18 273.89,133.43 273.46,133.63 272.89,133.92 272.33,134.23 271.89,134.49 271.37,134.82 270.90,135.15 270.50,135.44 270.01,135.82 269.53,136.21 269.11,136.58 268.71,136.95 268.31,137.34 267.91,137.74 267.52,138.17 267.14,138.60 266.81,139.00 266.49,139.40 266.12,139.87 265.75,140.39 265.48,140.79 265.13,141.32 264.84,141.78 264.53,142.30 264.27,142.78 263.95,143.37 263.74,143.79 263.46,144.37 263.19,144.96 262.94,145.56 262.74,146.07 262.54,146.61 262.34,147.18 262.15,147.80 261.95,148.47 261.77,149.14 261.62,149.74 261.49,150.33 261.35,151.02 261.23,151.73 261.14,152.32 261.04,153.12 260.96,153.91 260.92,154.51 260.87,155.31 260.86,156.10 260.86,156.90 260.88,157.69 260.93,158.49 260.98,159.08 261.06,159.88 261.15,160.57 261.26,161.27 261.37,161.87 261.53,162.66 261.67,163.26 261.82,163.86 261.98,164.45 262.16,165.05 262.35,165.65 262.56,166.24 262.79,166.84 263.03,167.44 263.28,168.03 263.54,168.59 263.75,169.03 264.05,169.63 264.33,170.15 264.60,170.62 264.93,171.17 265.21,171.61 265.53,172.09 265.89,172.61 266.18,173.01 266.52,173.45 266.92,173.94 267.31,174.40 267.67,174.80 268.05,175.19 268.44,175.59 268.86,175.99 269.30,176.39 269.70,176.73 270.10,177.06 270.52,177.38 271.08,177.78 271.49,178.06 272.00,178.38 272.49,178.66 273.06,178.97 273.48,179.18 274.08,179.45 274.68,179.69 275.27,179.91 275.87,180.09 276.47,180.25 277.06,180.38 277.86,180.51 278.45,180.58 279.25,180.62 280.04,180.61Z" fill="#0040ff" stroke="#000" stroke-width="1.5"/>
<path d="M332.15,173.21 331.35,173.21 330.76,173.16 329.96,173.03 329.37,172.88 328.77,172.68 328.17,172.42 327.75,172.21 327.18,171.87 326.78,171.60 326.29,171.22 325.83,170.82 325.43,170.42 325.06,170.02 324.73,169.63 324.39,169.19 324.01,168.63 323.75,168.23 323.41,167.64 323.20,167.24 322.91,166.64 322.64,166.05 322.40,165.45 322.21,164.91 322.01,164.31 321.81,163.66 321.65,163.06 321.51,162.47 321.38,161.87 321.24,161.07 321.15,160.48 321.04,159.68 320.98,159.08 320.92,158.29 320.88,157.49 320.86,156.70 320.86,155.90 320.89,155.11 320.93,154.31 321.00,153.52 321.07,152.92 321.18,152.12 321.27,151.53 321.41,150.80 321.56,150.14 321.71,149.54 321.87,148.94 322.05,148.35 322.26,147.75 322.48,147.15 322.73,146.56 323.00,145.96 323.20,145.56 323.52,144.96 323.80,144.50 324.14,143.97 324.42,143.57 324.79,143.10 325.19,142.64 325.59,142.22 325.98,141.84 326.38,141.51 326.80,141.19 327.38,140.81 327.77,140.58 328.37,140.29 328.97,140.05 329.56,139.86 330.16,139.73 330.96,139.62 331.55,139.58 332.16,139.60 332.95,139.67 333.60,139.79 334.34,139.99 334.93,140.19 335.42,140.39 335.93,140.63 336.52,140.95 336.92,141.19 337.51,141.58 337.92,141.89 338.31,142.21 338.74,142.58 339.16,142.98 339.55,143.37 339.91,143.77 340.30,144.25 340.70,144.76 340.99,145.16 341.30,145.62 341.63,146.16 341.89,146.61 342.18,147.15 342.48,147.75 342.69,148.22 342.91,148.74 343.14,149.34 343.35,149.94 343.53,150.53 343.70,151.13 343.88,151.91 344.01,152.52 344.11,153.12 344.22,153.91 344.28,154.51 344.34,155.31 344.36,156.10 344.36,156.90 344.33,157.69 344.28,158.31 344.20,159.08 344.08,159.86 343.97,160.48 343.84,161.07 343.68,161.72 343.49,162.42 343.29,163.04 343.09,163.60 342.89,164.11 342.66,164.65 342.38,165.25 342.09,165.82 341.86,166.24 341.51,166.84 341.26,167.24 340.90,167.77 340.56,168.23 340.24,168.63 339.91,169.03 339.51,169.47 339.11,169.87 338.71,170.25 338.28,170.62 337.78,171.02 337.32,171.35 336.92,171.61 336.33,171.96 335.85,172.21 335.33,172.45 334.73,172.68 334.14,172.87 333.54,173.02 332.75,173.15Z" fill="#ff4000" stroke="#000" stroke-width="1.5"/>
<path d="M279.95,173.20 280.64,173.14 281.36,173.01 282.03,172.82 282.61,172.61 283.06,172.41 283.62,172.11 284.11,171.81 284.62,171.45 285.02,171.13 285.41,170.77 285.81,170.38 286.21,169.94 286.61,169.45 286.92,169.03 287.20,168.61 287.56,168.03 287.80,167.62 288.10,167.04 288.39,166.44 288.60,165.95 288.80,165.45 289.01,164.85 289.21,164.26 289.39,163.64 289.59,162.88 289.73,162.27 289.85,161.67 289.99,160.91 290.08,160.28 290.18,159.48 290.24,158.89 290.29,158.09 290.33,157.29 290.34,156.50 290.33,155.70 290.30,154.91 290.25,154.11 290.19,153.39 290.11,152.72 289.99,151.93 289.89,151.33 289.78,150.73 289.60,149.94 289.44,149.34 289.27,148.74 289.08,148.15 288.87,147.55 288.64,146.95 288.40,146.38 288.20,145.96 287.90,145.36 287.60,144.83 287.32,144.37 287.01,143.89 286.63,143.37 286.31,142.98 285.96,142.58 285.57,142.18 285.15,141.78 284.66,141.39 284.22,141.06 283.79,140.79 283.23,140.47 282.63,140.20 282.07,139.99 281.44,139.81 280.84,139.69 280.04,139.60 279.45,139.58 278.85,139.61 278.06,139.71 277.46,139.83 276.85,139.99 276.27,140.19 275.67,140.44 275.07,140.73 274.61,140.99 274.08,141.32 273.68,141.59 273.16,141.98 272.69,142.38 272.29,142.74 271.89,143.13 271.49,143.55 271.12,143.97 270.80,144.37 270.49,144.77 270.10,145.32 269.81,145.76 269.50,146.26 269.23,146.75 268.91,147.35 268.71,147.78 268.45,148.35 268.21,148.94 267.99,149.54 267.79,150.14 267.61,150.73 267.45,151.33 267.31,151.93 267.16,152.72 267.06,153.32 266.96,154.11 266.90,154.71 266.85,155.51 266.83,156.30 266.84,157.10 266.89,157.89 266.94,158.49 267.03,159.28 267.12,159.88 267.27,160.68 267.40,161.27 267.56,161.87 267.73,162.47 267.92,163.06 268.13,163.66 268.37,164.26 268.63,164.85 268.91,165.44 269.12,165.85 269.45,166.44 269.70,166.87 270.07,167.44 270.35,167.84 270.70,168.30 271.10,168.80 271.47,169.23 271.84,169.63 272.25,170.02 272.68,170.42 273.08,170.76 273.48,171.06 273.98,171.41 274.48,171.73 274.97,172.01 275.47,172.27 276.07,172.53 276.66,172.75 277.26,172.92 277.86,173.06 278.65,173.17 279.25,173.21Z" fill="#0000ff" stroke="#000" stroke-width="1.5"/>
<path d="M331.75,162.27 331.16,162.22 330.56,162.05 329.96,161.72 329.56,161.41 329.17,161.01 328.77,160.48 328.53,160.08 328.25,159.48 328.03,158.89 327.87,158.29 327.76,157.69 327.67,156.90 327.67,156.10 327.73,155.31 327.83,154.71 327.97,154.10 328.17,153.50 328.43,152.92 328.77,152.32 329.06,151.93 329.41,151.53 329.89,151.13 330.36,150.85 330.96,150.62 331.55,150.53 332.15,150.56 332.79,150.73 333.34,151.00 333.82,151.33 334.25,151.73 334.59,152.12 334.93,152.62 335.21,153.12 335.47,153.72 335.67,154.31 335.81,154.91 335.92,155.70 335.95,156.30 335.93,157.03 335.85,157.69 335.72,158.29 335.53,158.93 335.31,159.48 335.00,160.08 334.73,160.49 334.34,160.98 333.94,161.37 333.54,161.68 332.95,162.01 332.35,162.20Z" fill="#ff0000" stroke="#000" stroke-width="1.5"/>
<path d="M279.69,162.27 280.44,162.12 281.00,161.87 281.44,161.58 281.83,161.23 282.23,160.76 282.56,160.28 282.83,159.77 283.03,159.28 283.23,158.69 283.41,157.89 283.49,157.29 283.54,156.50 283.51,155.70 283.43,154.99 283.28,154.31 283.11,153.72 282.87,153.12 282.63,152.65 282.30,152.12 281.98,151.73 281.57,151.33 281.04,150.95 280.58,150.73 279.85,150.55 279.33,150.53 278.65,150.65 278.06,150.89 277.65,151.13 277.15,151.53 276.77,151.93 276.46,152.32 276.09,152.92 275.87,153.37 275.66,153.91 275.47,154.54 275.32,155.31 275.26,155.90 275.25,156.70 275.30,157.29 275.43,158.09 275.59,158.69 275.81,159.28 276.07,159.84 276.33,160.28 276.66,160.75 277.06,161.19 277.46,161.53 277.98,161.87 278.45,162.09 279.25,162.26Z" fill="#0000bf" stroke="#000" stroke-width="1.5"/>
<line x1="305.60" y1="76.80" x2="305.60" y2="235.40" stroke="#000" stroke-width="1.5"/>
<rect x="404.65" y="76.80" width="79.45" height="158.60" fill="#40ffbf"/>
<rect x="484.10" y="76.80" width="79.45" height="158.60" fill="#80ff80"/>
<path d="M512.64,206.03 511.84,206.09 511.05,206.13 510.25,206.15 509.46,206.14 508.66,206.10 507.87,206.04 507.27,205.97 506.47,205.85 505.88,205.75 505.27,205.62 504.48,205.43 503.89,205.26 503.29,205.07 502.69,204.86 502.10,204.63 501.63,204.43 501.10,204.18 500.51,203.88 500.05,203.63 499.51,203.32 499.07,203.04 498.52,202.66 498.12,202.37 497.70,202.04 497.22,201.64 496.77,201.25 496.35,200.85 495.95,200.45 495.58,200.05 495.23,199.66 494.89,199.26 494.54,198.82 494.14,198.29 493.85,197.87 493.55,197.42 493.20,196.87 492.95,196.46 492.62,195.88 492.35,195.39 492.10,194.88 491.81,194.29 491.56,193.74 491.36,193.28 491.11,192.69 490.88,192.10 490.66,191.50 490.45,190.90 490.25,190.31 490.06,189.71 489.88,189.11 489.71,188.52 489.55,187.92 489.37,187.21 489.21,186.53 489.07,185.93 488.94,185.34 488.77,184.54 488.66,183.94 488.55,183.35 488.41,182.55 488.31,181.96 488.18,181.16 488.10,180.56 487.98,179.77 487.90,179.17 487.80,178.38 487.73,177.78 487.64,176.98 487.58,176.39 487.50,175.59 487.42,174.80 487.37,174.20 487.30,173.40 487.24,172.61 487.18,171.81 487.14,171.22 487.09,170.42 487.04,169.63 487.00,168.83 486.97,168.23 486.93,167.44 486.89,166.64 486.86,165.85 486.83,165.05 486.81,164.26 486.78,163.56 486.77,162.86 486.75,162.07 486.73,161.27 486.72,160.48 486.71,159.68 486.70,158.89 486.69,158.09 486.69,157.29 486.68,156.50 486.69,155.70 486.69,154.91 486.69,154.11 486.70,153.32 486.71,152.52 486.73,151.73 486.74,150.93 486.76,150.14 486.78,149.34 486.80,148.74 486.83,147.95 486.85,147.15 486.89,146.36 486.92,145.56 486.96,144.77 486.99,144.17 487.03,143.37 487.08,142.58 487.13,141.78 487.18,141.00 487.23,140.39 487.29,139.60 487.35,138.80 487.41,138.20 487.48,137.41 487.56,136.61 487.62,136.02 487.71,135.22 487.78,134.62 487.88,133.83 487.98,133.07 488.07,132.44 488.18,131.69 488.28,131.04 488.38,130.44 488.51,129.65 488.62,129.05 488.77,128.27 488.90,127.66 489.02,127.07 489.17,126.42 489.35,125.67 489.50,125.08 489.66,124.48 489.83,123.88 490.00,123.29 490.19,122.69 490.38,122.09 490.59,121.50 490.81,120.90 491.04,120.30 491.28,119.71 491.53,119.11 491.76,118.62 492.00,118.12 492.30,117.52 492.55,117.04 492.84,116.53 493.15,116.01 493.45,115.53 493.75,115.08 494.13,114.54 494.42,114.14 494.74,113.73 495.14,113.25 495.54,112.80 495.93,112.37 496.33,111.97 496.73,111.59 497.13,111.24 497.52,110.90 497.95,110.56 498.49,110.16 498.92,109.87 499.38,109.57 499.91,109.25 500.41,108.97 500.90,108.71 501.50,108.43 502.10,108.17 502.60,107.97 503.15,107.78 503.76,107.58 504.46,107.38 505.08,107.22 505.68,107.09 506.27,106.98 507.07,106.86 507.71,106.78 508.46,106.71 509.26,106.67 510.05,106.65 510.85,106.66 511.64,106.69 512.44,106.75 513.04,106.81 513.83,106.91 514.43,107.00 515.22,107.13 515.82,107.25 516.42,107.38 517.21,107.58 517.81,107.74 518.41,107.91 519.00,108.09 519.60,108.29 520.20,108.50 520.79,108.72 521.39,108.95 521.92,109.17 522.38,109.37 522.98,109.63 523.58,109.91 524.09,110.16 524.57,110.40 525.17,110.72 525.61,110.96 526.16,111.27 526.65,111.55 527.16,111.86 527.63,112.15 528.15,112.48 528.55,112.75 529.13,113.14 529.54,113.43 529.97,113.74 530.51,114.14 530.93,114.46 531.33,114.77 531.79,115.13 532.27,115.53 532.72,115.91 533.12,116.26 533.52,116.61 533.92,116.97 534.32,117.34 534.72,117.72 535.12,118.12 535.52,118.51 535.91,118.91 536.30,119.32 536.70,119.74 537.10,120.18 537.50,120.63 537.90,121.08 538.25,121.50 538.58,121.90 538.90,122.29 539.29,122.78 539.68,123.29 539.98,123.69 540.28,124.09 540.68,124.64 540.99,125.08 541.28,125.50 541.66,126.07 541.92,126.47 542.27,127.01 542.56,127.46 542.87,127.98 543.15,128.46 543.46,128.99 543.73,129.45 544.05,130.05 544.27,130.45 544.58,131.04 544.86,131.59 545.08,132.04 545.37,132.63 545.64,133.23 545.85,133.69 546.09,134.23 546.34,134.82 546.59,135.42 546.83,136.02 547.04,136.57 547.24,137.10 547.44,137.65 547.64,138.22 547.84,138.81 548.04,139.42 548.24,140.06 548.44,140.72 548.62,141.39 548.79,141.98 548.94,142.58 549.09,143.17 549.23,143.77 549.41,144.57 549.53,145.16 549.65,145.76 549.80,146.56 549.90,147.15 550.03,147.93 550.12,148.54 550.22,149.34 550.30,149.94 550.38,150.73 550.44,151.33 550.51,152.12 550.56,152.92 550.60,153.72 550.63,154.31 550.65,155.11 550.67,155.90 550.67,156.70 550.66,157.49 550.64,158.29 550.61,158.89 550.57,159.68 550.52,160.48 550.46,161.27 550.40,161.87 550.32,162.66 550.23,163.45 550.15,164.06 550.03,164.85 549.94,165.45 549.83,166.09 549.69,166.84 549.57,167.44 549.43,168.14 549.28,168.83 549.14,169.43 548.99,170.02 548.83,170.64 548.63,171.38 548.45,172.01 548.28,172.61 548.09,173.20 547.90,173.80 547.70,174.40 547.50,174.99 547.28,175.59 547.06,176.19 546.84,176.74 546.65,177.24 546.43,177.78 546.17,178.38 545.91,178.97 545.65,179.55 545.45,179.98 545.18,180.56 544.88,181.16 544.66,181.60 544.37,182.15 544.06,182.74 543.84,183.15 543.50,183.75 543.26,184.15 542.92,184.74 542.67,185.15 542.31,185.73 542.05,186.13 541.67,186.71 541.40,187.13 541.08,187.59 540.71,188.12 540.42,188.52 540.08,188.98 539.69,189.51 539.37,189.91 539.06,190.31 538.69,190.77 538.29,191.25 537.91,191.70 537.56,192.10 537.21,192.50 536.85,192.89 536.48,193.29 536.11,193.69 535.71,194.10 535.31,194.50 534.91,194.89 534.51,195.28 534.08,195.68 533.65,196.08 533.20,196.47 532.74,196.87 532.33,197.22 531.93,197.55 531.53,197.87 531.03,198.26 530.54,198.64 530.14,198.94 529.70,199.26 529.14,199.65 528.75,199.92 528.25,200.25 527.75,200.57 527.31,200.85 526.76,201.18 526.31,201.44 525.76,201.76 525.24,202.04 524.77,202.29 524.17,202.60 523.69,202.84 523.18,203.08 522.58,203.35 521.99,203.61 521.44,203.83 520.93,204.03 520.39,204.23 519.80,204.44 519.20,204.64 518.60,204.83 517.95,205.02 517.21,205.22 516.62,205.37 516.02,205.51 515.42,205.63 514.63,205.77 514.03,205.87 513.23,205.97Z" fill="#bfff40" stroke="#000" stroke-width="1.5"/>
<path d="M460.49,206.02 461.13,205.94 461.93,205.82 462.52,205.71 463.12,205.58 463.74,205.42 464.44,205.22 465.05,205.02 465.60,204.83 466.10,204.63 466.70,204.37 467.30,204.09 467.79,203.83 468.29,203.55 468.82,203.23 469.28,202.93 469.71,202.64 470.25,202.24 470.68,201.90 471.07,201.56 471.47,201.21 471.87,200.83 472.27,200.43 472.66,200.00 473.06,199.55 473.46,199.07 473.78,198.66 474.07,198.26 474.45,197.72 474.75,197.27 475.05,196.79 475.36,196.27 475.65,195.76 475.90,195.28 476.20,194.68 476.44,194.18 476.67,193.69 476.92,193.09 477.16,192.50 477.39,191.90 477.61,191.30 477.82,190.71 478.01,190.11 478.20,189.51 478.37,188.92 478.54,188.32 478.70,187.72 478.85,187.13 479.03,186.38 479.18,185.73 479.30,185.14 479.43,184.53 479.58,183.75 479.69,183.15 479.82,182.36 479.92,181.76 480.02,181.11 480.13,180.36 480.22,179.73 480.32,178.97 480.42,178.18 480.49,177.58 480.58,176.78 480.64,176.19 480.72,175.39 480.79,174.60 480.85,174.00 480.91,173.20 480.97,172.41 481.02,171.80 481.07,171.02 481.12,170.22 481.17,169.43 481.21,168.63 481.24,168.03 481.28,167.24 481.31,166.44 481.35,165.65 481.37,164.85 481.40,164.06 481.42,163.46 481.44,162.66 481.46,161.87 481.47,161.07 481.49,160.28 481.50,159.48 481.51,158.69 481.51,157.89 481.51,157.10 481.52,156.30 481.51,155.51 481.51,154.71 481.50,153.91 481.49,153.12 481.48,152.32 481.47,151.53 481.45,150.73 481.43,149.94 481.42,149.24 481.39,148.54 481.37,147.75 481.34,146.95 481.31,146.16 481.27,145.36 481.23,144.57 481.20,143.97 481.16,143.17 481.11,142.38 481.06,141.58 481.02,140.99 480.96,140.19 480.90,139.40 480.83,138.60 480.78,138.00 480.70,137.21 480.62,136.41 480.56,135.82 480.47,135.02 480.40,134.42 480.30,133.63 480.22,133.03 480.10,132.24 480.02,131.64 479.89,130.84 479.79,130.25 479.65,129.45 479.54,128.86 479.43,128.26 479.26,127.46 479.13,126.87 478.99,126.27 478.83,125.59 478.65,124.88 478.49,124.28 478.32,123.69 478.14,123.09 477.95,122.49 477.75,121.90 477.54,121.30 477.32,120.70 477.09,120.11 476.84,119.52 476.64,119.06 476.39,118.51 476.10,117.92 475.85,117.41 475.58,116.92 475.25,116.34 475.00,115.93 474.65,115.38 474.35,114.93 474.06,114.51 473.66,113.98 473.31,113.54 472.97,113.14 472.62,112.75 472.25,112.35 471.85,111.95 471.43,111.55 470.98,111.16 470.50,110.76 470.08,110.43 469.68,110.14 469.13,109.76 468.69,109.48 468.15,109.17 467.69,108.92 467.10,108.62 466.57,108.37 466.10,108.17 465.51,107.94 464.91,107.73 464.31,107.54 463.72,107.37 462.93,107.18 462.32,107.05 461.73,106.95 460.93,106.83 460.33,106.76 459.54,106.70 458.74,106.66 457.95,106.65 457.15,106.67 456.36,106.71 455.56,106.77 454.97,106.83 454.17,106.93 453.57,107.03 452.78,107.17 452.18,107.29 451.58,107.43 450.99,107.58 450.25,107.78 449.60,107.97 449.00,108.16 448.40,108.36 447.81,108.57 447.27,108.77 446.76,108.97 446.21,109.19 445.62,109.45 445.02,109.72 444.51,109.96 444.03,110.20 443.43,110.51 442.96,110.76 442.44,111.04 441.89,111.36 441.44,111.62 440.89,111.95 440.45,112.23 439.95,112.55 439.45,112.88 439.06,113.15 438.50,113.54 438.06,113.86 437.66,114.16 437.17,114.54 436.67,114.93 436.27,115.25 435.87,115.58 435.46,115.93 435.00,116.33 434.55,116.72 434.12,117.12 433.69,117.52 433.29,117.91 432.89,118.30 432.49,118.70 432.09,119.11 431.72,119.51 431.35,119.91 430.99,120.30 430.64,120.70 430.29,121.10 429.91,121.55 429.51,122.03 429.14,122.49 428.83,122.89 428.51,123.29 428.12,123.82 427.78,124.28 427.49,124.68 427.12,125.21 426.80,125.67 426.53,126.09 426.15,126.67 425.89,127.07 425.53,127.65 425.28,128.06 424.94,128.65 424.70,129.05 424.36,129.65 424.14,130.06 423.83,130.65 423.54,131.20 423.32,131.64 423.02,132.24 422.75,132.82 422.55,133.25 422.29,133.83 422.03,134.42 421.77,135.02 421.55,135.56 421.36,136.06 421.14,136.61 420.92,137.21 420.70,137.81 420.50,138.40 420.30,139.00 420.11,139.60 419.92,140.19 419.75,140.79 419.57,141.42 419.37,142.16 419.21,142.78 419.06,143.37 418.92,143.97 418.77,144.66 418.63,145.36 418.51,145.96 418.37,146.71 418.26,147.35 418.17,147.95 418.05,148.74 417.97,149.35 417.88,150.14 417.80,150.93 417.74,151.53 417.68,152.32 417.63,153.12 417.59,153.91 417.56,154.51 417.54,155.31 417.53,156.10 417.53,156.90 417.55,157.69 417.57,158.49 417.60,159.08 417.64,159.88 417.69,160.68 417.76,161.47 417.82,162.07 417.90,162.86 417.98,163.46 418.08,164.26 418.17,164.87 418.30,165.65 418.40,166.24 418.55,167.04 418.67,167.64 418.79,168.23 418.97,169.03 419.11,169.63 419.26,170.22 419.41,170.82 419.58,171.41 419.76,172.08 419.96,172.74 420.16,173.38 420.36,173.99 420.56,174.58 420.76,175.15 420.96,175.70 421.16,176.23 421.37,176.78 421.61,177.38 421.86,177.98 422.11,178.57 422.35,179.11 422.56,179.57 422.83,180.17 423.12,180.76 423.34,181.21 423.62,181.76 423.93,182.35 424.15,182.75 424.47,183.35 424.74,183.81 425.05,184.34 425.33,184.82 425.64,185.34 425.93,185.79 426.28,186.33 426.54,186.73 426.92,187.30 427.21,187.72 427.52,188.16 427.92,188.71 428.22,189.11 428.52,189.51 428.91,190.02 429.30,190.51 429.62,190.90 429.95,191.30 430.30,191.72 430.70,192.17 431.10,192.62 431.50,193.06 431.90,193.48 432.29,193.89 432.68,194.29 433.08,194.68 433.48,195.08 433.88,195.46 434.28,195.83 434.68,196.19 435.08,196.54 435.48,196.89 435.93,197.27 436.41,197.67 436.87,198.03 437.27,198.34 437.69,198.66 438.23,199.06 438.66,199.37 439.07,199.66 439.65,200.05 440.05,200.32 440.57,200.65 441.04,200.94 441.55,201.25 442.04,201.53 442.59,201.84 443.03,202.08 443.63,202.40 444.11,202.64 444.62,202.89 445.22,203.17 445.82,203.43 446.28,203.63 446.81,203.85 447.41,204.08 448.00,204.30 448.60,204.51 449.20,204.71 449.79,204.89 450.39,205.06 450.99,205.22 451.78,205.42 452.38,205.55 452.98,205.67 453.77,205.80 454.37,205.89 455.16,205.99 455.76,206.05 456.56,206.11 457.35,206.14 458.15,206.15 458.94,206.13 459.74,206.09Z" fill="#00ffff" stroke="#000" stroke-width="1.5"/>
<path d="M511.45,195.49 510.65,195.52 509.85,195.52 509.06,195.49 508.46,195.45 507.67,195.36 507.07,195.26 506.27,195.11 505.68,194.97 505.08,194.80 504.48,194.61 503.89,194.39 503.29,194.15 502.72,193.89 502.30,193.68 501.70,193.35 501.26,193.09 500.71,192.74 500.31,192.46 499.82,192.10 499.32,191.70 498.92,191.35 498.52,190.98 498.12,190.59 497.72,190.18 497.33,189.73 496.97,189.31 496.65,188.92 496.33,188.49 495.93,187.94 495.65,187.52 495.34,187.03 495.04,186.53 494.74,186.01 494.48,185.53 494.18,184.94 493.94,184.46 493.71,183.94 493.45,183.35 493.20,182.75 492.97,182.15 492.75,181.56 492.55,180.99 492.35,180.40 492.16,179.77 491.98,179.17 491.81,178.57 491.65,177.98 491.50,177.38 491.35,176.78 491.17,175.99 491.05,175.39 490.92,174.80 490.77,174.00 490.67,173.40 490.56,172.81 490.44,172.01 490.35,171.41 490.23,170.62 490.16,170.02 490.06,169.23 489.97,168.43 489.90,167.84 489.83,167.04 489.77,166.40 489.71,165.65 489.64,164.85 489.59,164.06 489.55,163.46 489.51,162.66 489.47,161.87 489.44,161.07 489.41,160.28 489.39,159.48 489.37,158.69 489.36,158.09 489.35,157.29 489.35,156.50 489.35,155.70 489.36,154.91 489.37,154.12 489.38,153.52 489.40,152.72 489.43,151.93 489.46,151.13 489.50,150.33 489.54,149.54 489.58,148.94 489.63,148.15 489.69,147.35 489.75,146.56 489.81,145.96 489.88,145.16 489.97,144.37 490.03,143.77 490.13,142.98 490.21,142.38 490.32,141.58 490.41,140.99 490.53,140.19 490.63,139.60 490.76,138.85 490.89,138.20 491.00,137.61 491.16,136.87 491.31,136.21 491.45,135.62 491.60,135.02 491.76,134.42 491.96,133.71 492.15,133.04 492.34,132.44 492.54,131.84 492.75,131.24 492.95,130.70 493.15,130.18 493.36,129.65 493.62,129.05 493.89,128.46 494.14,127.93 494.38,127.46 494.70,126.87 494.94,126.44 495.28,125.87 495.54,125.46 495.92,124.88 496.20,124.48 496.53,124.04 496.93,123.54 497.30,123.09 497.66,122.69 498.04,122.29 498.44,121.90 498.87,121.50 499.31,121.11 499.71,120.79 500.11,120.48 500.64,120.11 501.10,119.80 501.59,119.51 502.10,119.23 502.69,118.92 503.15,118.71 503.69,118.49 504.29,118.26 504.88,118.06 505.48,117.89 506.15,117.72 506.87,117.57 507.47,117.47 508.26,117.37 508.86,117.32 509.66,117.28 510.45,117.28 511.25,117.30 511.84,117.34 512.64,117.42 513.35,117.52 514.03,117.64 514.63,117.75 515.34,117.92 516.02,118.09 516.62,118.27 517.21,118.46 517.81,118.66 518.41,118.88 518.98,119.11 519.45,119.31 520.00,119.56 520.59,119.84 521.13,120.11 521.59,120.35 522.18,120.68 522.58,120.90 523.18,121.26 523.58,121.51 524.16,121.90 524.57,122.17 525.03,122.49 525.57,122.89 525.96,123.19 526.36,123.50 526.84,123.88 527.31,124.28 527.75,124.67 528.15,125.02 528.55,125.39 528.95,125.77 529.34,126.16 529.74,126.57 530.14,126.98 530.54,127.41 530.93,127.85 531.29,128.26 531.63,128.66 531.95,129.05 532.33,129.52 532.72,130.04 533.03,130.45 533.32,130.84 533.72,131.40 534.02,131.84 534.32,132.28 534.67,132.83 534.92,133.23 535.28,133.83 535.52,134.23 535.86,134.82 536.11,135.27 536.40,135.82 536.70,136.41 536.90,136.81 537.19,137.41 537.46,138.00 537.70,138.53 537.90,139.00 538.15,139.60 538.38,140.19 538.61,140.79 538.83,141.39 539.03,141.98 539.23,142.58 539.42,143.17 539.60,143.77 539.77,144.37 539.93,144.96 540.08,145.57 540.27,146.36 540.40,146.95 540.53,147.55 540.68,148.35 540.78,148.94 540.88,149.56 540.99,150.33 541.08,151.02 541.16,151.73 541.23,152.52 541.28,153.12 541.33,153.91 541.37,154.71 541.39,155.51 541.40,156.30 541.39,157.10 541.37,157.89 541.34,158.69 541.29,159.48 541.25,160.08 541.18,160.87 541.09,161.67 541.02,162.27 540.91,163.06 540.81,163.66 540.68,164.44 540.56,165.05 540.44,165.65 540.28,166.39 540.13,167.04 539.98,167.64 539.82,168.23 539.66,168.83 539.48,169.43 539.29,170.05 539.09,170.66 538.89,171.24 538.68,171.81 538.46,172.41 538.23,173.01 537.98,173.60 537.73,174.20 537.50,174.72 537.28,175.19 537.00,175.79 536.70,176.39 536.50,176.78 536.19,177.38 535.91,177.89 535.63,178.38 535.31,178.93 535.04,179.37 534.71,179.90 534.42,180.36 534.12,180.82 533.75,181.36 533.47,181.76 533.12,182.23 532.74,182.75 532.43,183.15 532.11,183.55 531.73,184.02 531.33,184.49 530.94,184.94 530.59,185.34 530.22,185.73 529.84,186.13 529.45,186.53 529.05,186.93 528.64,187.32 528.21,187.72 527.77,188.12 527.36,188.48 526.96,188.82 526.56,189.14 526.09,189.51 525.57,189.91 525.17,190.21 524.75,190.51 524.17,190.90 523.78,191.16 523.24,191.50 522.78,191.78 522.23,192.10 521.79,192.35 521.19,192.66 520.73,192.89 520.20,193.15 519.60,193.42 519.00,193.68 518.48,193.89 517.95,194.09 517.39,194.29 516.77,194.48 516.10,194.68 515.42,194.86 514.83,195.00 514.23,195.13 513.43,195.27 512.84,195.35 512.04,195.44Z" fill="#ffff00" stroke="#000" stroke-width="1.5"/>
<path d="M459.35,195.48 460.14,195.41 460.93,195.30 461.53,195.19 462.12,195.06 462.83,194.88 463.49,194.68 464.07,194.48 464.58,194.29 465.11,194.06 465.70,193.78 466.26,193.49 466.70,193.24 467.26,192.89 467.69,192.60 468.12,192.30 468.63,191.90 469.09,191.52 469.48,191.17 469.88,190.79 470.28,190.39 470.68,189.96 471.07,189.51 471.39,189.11 471.70,188.72 472.07,188.22 472.41,187.72 472.67,187.32 473.04,186.73 473.28,186.33 473.61,185.73 473.86,185.26 474.12,184.74 474.40,184.14 474.65,183.58 474.85,183.11 475.08,182.55 475.31,181.96 475.52,181.36 475.73,180.76 475.92,180.17 476.10,179.57 476.28,178.97 476.44,178.38 476.64,177.62 476.80,176.98 476.94,176.39 477.07,175.79 477.24,174.99 477.35,174.40 477.46,173.80 477.60,173.01 477.70,172.41 477.82,171.61 477.91,171.02 478.02,170.22 478.09,169.63 478.19,168.83 478.25,168.23 478.34,167.44 478.41,166.64 478.46,166.05 478.53,165.25 478.58,164.45 478.63,163.72 478.67,163.06 478.71,162.27 478.75,161.47 478.78,160.68 478.80,159.88 478.82,159.08 478.83,158.49 478.84,157.69 478.85,156.90 478.85,156.10 478.85,155.31 478.84,154.51 478.83,153.91 478.81,153.12 478.78,152.32 478.75,151.53 478.72,150.73 478.68,149.94 478.63,149.14 478.60,148.54 478.54,147.75 478.48,146.95 478.43,146.36 478.35,145.56 478.28,144.77 478.21,144.17 478.12,143.37 478.03,142.70 477.94,141.98 477.84,141.26 477.73,140.59 477.64,139.99 477.50,139.20 477.39,138.60 477.24,137.82 477.11,137.21 476.98,136.61 476.84,135.99 476.65,135.22 476.50,134.62 476.33,134.03 476.16,133.43 475.98,132.83 475.79,132.24 475.59,131.64 475.38,131.04 475.15,130.45 474.92,129.85 474.67,129.25 474.45,128.77 474.22,128.26 473.92,127.66 473.66,127.16 473.39,126.67 473.06,126.10 472.80,125.67 472.47,125.16 472.14,124.68 471.85,124.28 471.47,123.78 471.07,123.30 470.72,122.89 470.35,122.49 469.97,122.09 469.55,121.70 469.11,121.30 468.69,120.95 468.29,120.63 467.84,120.30 467.30,119.93 466.90,119.68 466.30,119.33 465.88,119.11 465.31,118.83 464.71,118.57 464.11,118.33 463.52,118.13 462.92,117.94 462.32,117.78 461.73,117.65 461.03,117.52 460.33,117.42 459.54,117.34 458.94,117.30 458.15,117.27 457.35,117.29 456.64,117.32 455.96,117.38 455.16,117.47 454.57,117.57 453.77,117.71 453.18,117.84 452.58,117.99 451.98,118.15 451.39,118.33 450.79,118.52 450.19,118.73 449.60,118.96 449.00,119.20 448.40,119.46 447.88,119.71 447.41,119.94 446.81,120.24 446.32,120.50 445.82,120.79 445.29,121.10 444.82,121.39 444.34,121.70 443.83,122.04 443.43,122.31 442.90,122.69 442.44,123.04 442.04,123.34 441.61,123.69 441.13,124.08 440.66,124.48 440.25,124.84 439.85,125.21 439.45,125.58 439.06,125.97 438.66,126.36 438.26,126.77 437.86,127.19 437.46,127.63 437.08,128.06 436.74,128.46 436.41,128.86 436.07,129.27 435.67,129.78 435.31,130.25 435.02,130.65 434.68,131.12 434.32,131.64 434.05,132.04 433.69,132.59 433.40,133.03 433.09,133.54 432.80,134.03 432.49,134.56 432.23,135.02 431.91,135.62 431.70,136.02 431.40,136.61 431.11,137.21 430.90,137.64 430.65,138.20 430.39,138.80 430.13,139.40 429.91,139.96 429.71,140.47 429.51,141.01 429.30,141.58 429.10,142.18 428.90,142.78 428.71,143.39 428.51,144.07 428.32,144.77 428.17,145.36 428.02,145.96 427.89,146.56 427.72,147.33 427.60,147.95 427.49,148.54 427.36,149.34 427.27,149.94 427.16,150.73 427.09,151.33 427.00,152.12 426.94,152.92 426.89,153.52 426.85,154.31 426.82,155.11 426.81,155.90 426.80,156.70 426.82,157.49 426.84,158.29 426.88,159.08 426.92,159.71 426.99,160.48 427.06,161.27 427.13,161.87 427.24,162.66 427.32,163.26 427.45,164.06 427.56,164.65 427.72,165.45 427.84,166.05 427.98,166.64 428.12,167.24 428.32,168.00 428.49,168.63 428.66,169.23 428.84,169.82 429.03,170.42 429.23,171.02 429.44,171.61 429.66,172.21 429.89,172.81 430.11,173.33 430.30,173.81 430.56,174.40 430.83,174.99 431.10,175.58 431.30,175.99 431.60,176.59 431.90,177.16 432.12,177.58 432.45,178.18 432.69,178.59 433.04,179.17 433.29,179.58 433.65,180.17 433.91,180.56 434.28,181.11 434.59,181.56 434.88,181.96 435.28,182.50 435.62,182.95 435.93,183.35 436.27,183.77 436.67,184.25 437.07,184.72 437.44,185.14 437.80,185.53 438.17,185.93 438.55,186.33 438.95,186.73 439.36,187.13 439.78,187.52 440.21,187.92 440.65,188.31 441.04,188.65 441.44,188.98 441.86,189.31 442.37,189.71 442.83,190.06 443.23,190.35 443.74,190.71 444.23,191.03 444.65,191.30 445.22,191.66 445.62,191.90 446.21,192.24 446.69,192.50 447.21,192.76 447.81,193.06 448.31,193.29 448.80,193.51 449.40,193.76 449.99,193.99 450.59,194.21 451.19,194.41 451.78,194.59 452.38,194.76 452.98,194.91 453.74,195.08 454.37,195.20 454.97,195.30 455.76,195.40 456.56,195.47 457.15,195.51 457.95,195.53 458.74,195.51Z" fill="#00bfff" stroke="#000" stroke-width="1.5"/>
<path d="M512.44,187.53 511.64,187.62 510.85,187.67 510.05,187.68 509.26,187.65 508.46,187.58 507.87,187.50 507.07,187.35 506.47,187.21 505.88,187.04 505.28,186.84 504.68,186.61 504.09,186.35 503.65,186.13 503.09,185.83 502.60,185.53 502.10,185.20 501.70,184.92 501.21,184.54 500.74,184.14 500.31,183.75 499.91,183.36 499.51,182.95 499.16,182.55 498.82,182.15 498.51,181.76 498.12,181.24 497.79,180.76 497.52,180.36 497.16,179.77 496.93,179.37 496.60,178.77 496.33,178.26 496.10,177.78 495.82,177.18 495.56,176.59 495.34,176.04 495.14,175.52 494.94,174.98 494.74,174.40 494.54,173.80 494.34,173.16 494.14,172.47 493.97,171.81 493.82,171.22 493.67,170.62 493.54,170.02 493.37,169.23 493.26,168.63 493.15,168.02 493.02,167.24 492.92,166.64 492.81,165.85 492.73,165.25 492.64,164.45 492.55,163.66 492.50,163.06 492.43,162.27 492.37,161.47 492.33,160.87 492.29,160.08 492.25,159.28 492.23,158.49 492.21,157.69 492.20,156.90 492.20,156.10 492.20,155.31 492.22,154.51 492.24,153.72 492.28,152.92 492.32,152.12 492.35,151.53 492.41,150.73 492.48,149.94 492.55,149.14 492.62,148.54 492.71,147.75 492.78,147.15 492.89,146.36 492.99,145.76 493.12,144.96 493.22,144.37 493.35,143.71 493.50,142.98 493.63,142.38 493.77,141.78 493.94,141.08 494.13,140.39 494.30,139.79 494.48,139.20 494.67,138.60 494.87,138.00 495.09,137.41 495.32,136.81 495.54,136.27 495.73,135.81 496.00,135.22 496.29,134.62 496.53,134.15 496.81,133.63 497.13,133.09 497.40,132.63 497.72,132.14 498.07,131.64 498.36,131.24 498.72,130.78 499.11,130.30 499.51,129.85 499.89,129.45 500.30,129.05 500.71,128.68 501.10,128.35 501.50,128.03 502.00,127.66 502.50,127.33 502.93,127.07 503.49,126.75 504.05,126.47 504.49,126.27 505.08,126.03 505.68,125.82 506.27,125.64 506.94,125.48 507.67,125.33 508.26,125.24 509.06,125.16 509.85,125.12 510.65,125.12 511.45,125.17 512.24,125.25 512.84,125.33 513.60,125.48 514.23,125.62 514.83,125.77 515.42,125.95 516.02,126.15 516.62,126.37 517.21,126.61 517.80,126.87 518.22,127.07 518.80,127.36 519.37,127.66 519.80,127.91 520.39,128.26 520.79,128.52 521.30,128.86 521.79,129.20 522.18,129.49 522.65,129.85 523.14,130.25 523.58,130.61 523.97,130.96 524.37,131.33 524.77,131.70 525.17,132.10 525.57,132.51 525.96,132.93 526.36,133.37 526.75,133.83 527.08,134.23 527.40,134.62 527.75,135.08 528.15,135.61 528.44,136.02 528.75,136.46 529.11,137.01 529.37,137.41 529.73,138.00 529.97,138.40 530.30,139.00 530.54,139.43 530.83,139.99 531.13,140.59 531.33,141.01 531.59,141.58 531.85,142.18 532.10,142.78 532.33,143.35 532.53,143.89 532.72,144.45 532.92,145.04 533.12,145.67 533.32,146.35 533.49,146.95 533.64,147.55 533.78,148.15 533.92,148.76 534.07,149.54 534.18,150.14 534.31,150.93 534.39,151.53 534.49,152.32 534.55,152.92 534.62,153.72 534.67,154.51 534.70,155.31 534.71,156.10 534.71,156.70 534.70,157.29 534.68,158.09 534.63,158.89 534.57,159.68 534.51,160.28 534.42,161.07 534.32,161.83 534.22,162.47 534.11,163.06 533.96,163.86 533.83,164.45 533.69,165.05 533.52,165.72 533.32,166.44 533.15,167.04 532.96,167.64 532.77,168.23 532.56,168.83 532.33,169.43 532.13,169.95 531.93,170.44 531.68,171.02 531.41,171.61 531.13,172.20 530.93,172.61 530.63,173.20 530.34,173.74 530.08,174.20 529.74,174.78 529.49,175.19 529.14,175.74 528.85,176.19 528.55,176.63 528.16,177.18 527.86,177.58 527.55,177.98 527.16,178.48 526.76,178.96 526.41,179.37 526.05,179.77 525.69,180.17 525.30,180.56 524.91,180.96 524.49,181.36 524.06,181.76 523.61,182.15 523.18,182.52 522.78,182.85 522.38,183.16 521.86,183.55 521.39,183.88 520.99,184.15 520.39,184.54 520.00,184.78 519.40,185.12 519.00,185.34 518.41,185.64 517.81,185.93 517.35,186.13 516.81,186.35 516.22,186.58 515.62,186.78 515.02,186.97 514.43,187.13 513.63,187.32 513.04,187.43Z" fill="#ffbf00" stroke="#000" stroke-width="1.5"/>
<path d="M460.19,187.52 460.93,187.40 461.53,187.26 462.12,187.10 462.72,186.91 463.32,186.69 463.91,186.44 464.51,186.15 464.92,185.93 465.51,185.59 465.91,185.34 466.47,184.94 466.90,184.61 467.30,184.29 467.69,183.94 468.11,183.55 468.50,183.15 468.89,182.73 469.28,182.27 469.68,181.77 469.99,181.36 470.28,180.95 470.67,180.36 470.92,179.97 471.27,179.37 471.50,178.97 471.81,178.38 472.07,177.85 472.29,177.38 472.55,176.78 472.80,176.19 473.04,175.59 473.26,174.99 473.46,174.41 473.66,173.80 473.84,173.20 474.02,172.61 474.18,172.01 474.33,171.41 474.48,170.82 474.65,170.05 474.79,169.43 474.90,168.83 475.05,168.03 475.15,167.44 475.25,166.81 475.36,166.05 475.45,165.40 475.54,164.65 475.63,163.86 475.69,163.26 475.76,162.47 475.82,161.67 475.86,161.07 475.90,160.28 475.94,159.48 475.97,158.69 475.99,157.89 476.00,157.10 476.00,156.30 476.00,155.51 475.98,154.71 475.96,153.91 475.93,153.12 475.89,152.32 475.85,151.55 475.80,150.93 475.74,150.14 475.67,149.34 475.61,148.74 475.52,147.95 475.44,147.35 475.33,146.56 475.25,145.96 475.12,145.16 475.01,144.57 474.86,143.77 474.74,143.17 474.62,142.58 474.45,141.88 474.28,141.19 474.13,140.59 473.96,139.99 473.78,139.40 473.60,138.80 473.40,138.20 473.19,137.61 472.96,137.01 472.72,136.41 472.47,135.82 472.27,135.37 472.01,134.82 471.71,134.23 471.47,133.78 471.16,133.23 470.87,132.76 470.54,132.24 470.27,131.84 469.88,131.29 469.54,130.84 469.21,130.45 468.87,130.05 468.49,129.64 468.09,129.24 467.69,128.86 467.23,128.46 466.74,128.06 466.30,127.74 465.90,127.46 465.31,127.09 464.91,126.86 464.31,126.55 463.72,126.27 463.22,126.07 462.68,125.87 462.04,125.67 461.33,125.49 460.73,125.37 460.14,125.27 459.34,125.18 458.54,125.13 457.75,125.12 456.95,125.15 456.16,125.22 455.56,125.30 454.77,125.44 454.17,125.57 453.57,125.72 452.98,125.89 452.38,126.08 451.78,126.29 451.19,126.53 450.59,126.78 449.99,127.06 449.58,127.27 449.00,127.57 448.48,127.86 448.00,128.14 447.50,128.46 447.01,128.78 446.61,129.06 446.07,129.45 445.62,129.80 445.22,130.11 444.82,130.45 444.36,130.84 443.92,131.24 443.50,131.64 443.09,132.04 442.70,132.44 442.33,132.83 441.97,133.23 441.62,133.63 441.24,134.07 440.84,134.56 440.49,135.02 440.19,135.42 439.85,135.89 439.48,136.41 439.22,136.81 438.86,137.37 438.59,137.81 438.26,138.36 438.01,138.80 437.68,139.40 437.46,139.80 437.17,140.39 436.88,140.99 436.67,141.45 436.43,141.98 436.18,142.58 435.94,143.17 435.72,143.77 435.50,144.37 435.30,144.96 435.11,145.56 434.93,146.16 434.77,146.75 434.61,147.35 434.46,147.95 434.29,148.74 434.16,149.34 434.05,149.94 433.92,150.73 433.83,151.33 433.73,152.12 433.67,152.72 433.60,153.52 433.54,154.31 433.51,155.11 433.49,155.90 433.49,156.50 433.49,157.10 433.52,157.89 433.56,158.69 433.61,159.48 433.69,160.25 433.76,160.87 433.86,161.67 433.95,162.27 434.08,163.03 434.20,163.66 434.33,164.26 434.48,164.93 434.66,165.65 434.82,166.24 434.99,166.84 435.17,167.44 435.37,168.03 435.57,168.63 435.79,169.23 436.02,169.82 436.26,170.42 436.47,170.91 436.70,171.41 436.97,172.01 437.27,172.61 437.47,173.01 437.79,173.60 438.06,174.10 438.35,174.60 438.66,175.11 438.96,175.59 439.25,176.04 439.62,176.59 439.90,176.98 440.25,177.46 440.64,177.98 440.96,178.38 441.28,178.77 441.64,179.20 442.04,179.65 442.44,180.08 442.83,180.50 443.23,180.90 443.63,181.29 444.03,181.66 444.42,182.01 444.82,182.36 445.30,182.75 445.81,183.15 446.21,183.46 446.62,183.75 447.20,184.14 447.61,184.41 448.14,184.74 448.60,185.01 449.19,185.34 449.60,185.54 450.19,185.84 450.79,186.11 451.33,186.33 451.85,186.53 452.41,186.73 453.03,186.93 453.75,187.13 454.37,187.27 454.97,187.40 455.75,187.52 456.36,187.60 457.15,187.66 457.95,187.68 458.74,187.66 459.54,187.61Z" fill="#0080ff" stroke="#000" stroke-width="1.5"/>
<path d="M511.25,180.58 510.45,180.62 509.66,180.61 509.01,180.56 508.26,180.46 507.67,180.35 506.96,180.17 506.34,179.97 505.82,179.77 505.28,179.53 504.68,179.22 504.25,178.97 503.69,178.61 503.29,178.33 502.84,177.98 502.38,177.58 501.95,177.18 501.56,176.78 501.20,176.39 500.86,175.99 500.51,175.54 500.11,175.00 499.84,174.60 499.51,174.09 499.22,173.60 498.92,173.05 498.69,172.61 498.40,172.01 498.13,171.41 497.92,170.93 497.72,170.42 497.50,169.82 497.29,169.23 497.10,168.63 496.92,168.03 496.73,167.34 496.55,166.64 496.41,166.05 496.28,165.45 496.13,164.68 496.02,164.06 495.93,163.46 495.81,162.66 495.73,162.07 495.65,161.27 495.57,160.48 495.52,159.88 495.47,159.08 495.44,158.29 495.41,157.49 495.40,156.70 495.40,155.90 495.42,155.11 495.44,154.31 495.48,153.52 495.54,152.77 495.59,152.12 495.67,151.33 495.73,150.73 495.84,149.94 495.93,149.29 496.06,148.54 496.17,147.95 496.33,147.15 496.46,146.56 496.60,145.96 496.75,145.36 496.93,144.74 497.13,144.08 497.33,143.47 497.52,142.90 497.72,142.37 497.96,141.78 498.21,141.19 498.49,140.59 498.72,140.13 499.00,139.60 499.31,139.04 499.58,138.60 499.91,138.09 500.25,137.61 500.54,137.21 500.90,136.76 501.30,136.29 501.70,135.87 502.10,135.48 502.50,135.11 502.89,134.78 503.36,134.42 503.89,134.05 504.29,133.81 504.88,133.47 505.37,133.23 505.88,133.01 506.47,132.79 507.07,132.60 507.74,132.44 508.46,132.30 509.06,132.23 509.85,132.18 510.65,132.19 511.40,132.24 512.04,132.32 512.73,132.44 513.43,132.60 514.03,132.76 514.63,132.96 515.22,133.18 515.81,133.43 516.24,133.63 516.81,133.92 517.37,134.23 517.81,134.49 518.33,134.82 518.80,135.15 519.20,135.44 519.69,135.82 520.17,136.21 520.59,136.58 520.99,136.95 521.39,137.34 521.79,137.74 522.18,138.17 522.56,138.60 522.89,139.00 523.21,139.40 523.58,139.87 523.95,140.39 524.22,140.79 524.57,141.32 524.86,141.78 525.17,142.30 525.43,142.78 525.75,143.37 525.96,143.79 526.24,144.37 526.51,144.96 526.76,145.56 526.96,146.07 527.16,146.61 527.36,147.18 527.55,147.80 527.75,148.47 527.93,149.14 528.08,149.74 528.21,150.33 528.35,151.02 528.47,151.73 528.56,152.32 528.66,153.12 528.74,153.91 528.78,154.51 528.83,155.31 528.84,156.10 528.84,156.90 528.82,157.69 528.77,158.49 528.72,159.08 528.64,159.88 528.55,160.57 528.44,161.27 528.33,161.87 528.17,162.66 528.03,163.26 527.88,163.86 527.72,164.45 527.54,165.05 527.35,165.65 527.14,166.24 526.91,166.84 526.67,167.44 526.42,168.03 526.16,168.59 525.95,169.03 525.65,169.63 525.37,170.15 525.10,170.62 524.77,171.17 524.49,171.61 524.17,172.09 523.81,172.61 523.52,173.01 523.18,173.45 522.78,173.94 522.39,174.40 522.03,174.80 521.65,175.19 521.26,175.59 520.84,175.99 520.40,176.39 520.00,176.73 519.60,177.06 519.18,177.38 518.62,177.78 518.21,178.06 517.70,178.38 517.21,178.66 516.64,178.97 516.22,179.18 515.62,179.45 515.02,179.69 514.43,179.91 513.83,180.09 513.23,180.25 512.64,180.38 511.84,180.51Z" fill="#ff8000" stroke="#000" stroke-width="1.5"/>
<path d="M459.19,180.56 459.94,180.46 460.53,180.35 461.24,180.17 461.86,179.97 462.38,179.77 462.92,179.53 463.52,179.22 463.95,178.97 464.51,178.61 464.91,178.33 465.36,177.98 465.82,177.58 466.25,177.18 466.64,176.78 467.00,176.39 467.34,175.99 467.69,175.54 468.09,175.00 468.36,174.60 468.69,174.09 468.98,173.60 469.28,173.05 469.51,172.61 469.80,172.01 470.07,171.41 470.28,170.93 470.48,170.42 470.70,169.82 470.91,169.23 471.10,168.63 471.28,168.03 471.47,167.34 471.65,166.64 471.79,166.05 471.92,165.45 472.07,164.68 472.18,164.06 472.27,163.46 472.39,162.66 472.47,162.07 472.55,161.27 472.63,160.48 472.68,159.88 472.73,159.08 472.76,158.29 472.79,157.49 472.80,156.70 472.80,155.90 472.78,155.11 472.76,154.31 472.72,153.52 472.66,152.77 472.61,152.12 472.53,151.33 472.47,150.73 472.36,149.94 472.27,149.29 472.14,148.54 472.03,147.95 471.87,147.15 471.74,146.56 471.60,145.96 471.45,145.36 471.27,144.74 471.07,144.08 470.87,143.47 470.68,142.90 470.48,142.37 470.24,141.78 469.99,141.19 469.71,140.59 469.48,140.13 469.20,139.60 468.89,139.04 468.62,138.60 468.29,138.09 467.95,137.61 467.66,137.21 467.30,136.76 466.90,136.29 466.50,135.87 466.10,135.48 465.70,135.11 465.31,134.78 464.84,134.42 464.31,134.05 463.91,133.81 463.32,133.47 462.83,133.23 462.32,133.01 461.73,132.79 461.13,132.60 460.46,132.44 459.74,132.30 459.14,132.23 458.35,132.18 457.55,132.19 456.80,132.24 456.16,132.32 455.47,132.44 454.77,132.60 454.17,132.76 453.57,132.96 452.98,133.18 452.39,133.43 451.96,133.63 451.39,133.92 450.83,134.23 450.39,134.49 449.87,134.82 449.40,135.15 449.00,135.44 448.51,135.82 448.03,136.21 447.61,136.58 447.21,136.95 446.81,137.34 446.41,137.74 446.02,138.17 445.64,138.60 445.31,139.00 444.99,139.40 444.62,139.87 444.25,140.39 443.98,140.79 443.63,141.32 443.34,141.78 443.03,142.30 442.77,142.78 442.45,143.37 442.24,143.79 441.96,144.37 441.69,144.96 441.44,145.56 441.24,146.07 441.04,146.61 440.84,147.18 440.65,147.80 440.45,148.47 440.27,149.14 440.12,149.74 439.99,150.33 439.85,151.02 439.73,151.73 439.64,152.32 439.54,153.12 439.46,153.91 439.42,154.51 439.37,155.31 439.36,156.10 439.36,156.90 439.38,157.69 439.43,158.49 439.48,159.08 439.56,159.88 439.65,160.57 439.76,161.27 439.87,161.87 440.03,162.66 440.17,163.26 440.32,163.86 440.48,164.45 440.66,165.05 440.85,165.65 441.06,166.24 441.29,166.84 441.53,167.44 441.78,168.03 442.04,168.59 442.25,169.03 442.55,169.63 442.83,170.15 443.10,170.62 443.43,171.17 443.71,171.61 444.03,172.09 444.39,172.61 444.68,173.01 445.02,173.45 445.42,173.94 445.81,174.40 446.17,174.80 446.55,175.19 446.94,175.59 447.36,175.99 447.80,176.39 448.20,176.73 448.60,177.06 449.02,177.38 449.58,177.78 449.99,178.06 450.50,178.38 450.99,178.66 451.56,178.97 451.98,179.18 452.58,179.45 453.18,179.69 453.77,179.91 454.37,180.09 454.97,180.25 455.56,180.38 456.36,180.51 456.95,180.58 457.75,180.62 458.54,180.61Z" fill="#0040ff" stroke="#000" stroke-width="1.5"/>
<path d="M510.65,173.21 509.85,173.21 509.26,173.16 508.46,173.03 507.87,172.88 507.27,172.68 506.67,172.42 506.25,172.21 505.68,171.87 505.28,171.60 504.79,171.22 504.33,170.82 503.93,170.42 503.56,170.02 503.23,169.63 502.89,169.19 502.51,168.63 502.25,168.23 501.91,167.64 501.70,167.24 501.41,166.64 501.14,166.05 500.90,165.45 500.71,164.91 500.51,164.31 500.31,163.66 500.15,163.06 500.01,162.47 499.88,161.87 499.74,161.07 499.65,160.48 499.54,159.68 499.48,159.08 499.42,158.29 499.38,157.49 499.36,156.70 499.36,155.90 499.39,155.11 499.43,154.31 499.50,153.52 499.57,152.92 499.68,152.12 499.77,151.53 499.91,150.80 500.06,150.14 500.21,149.54 500.37,148.94 500.55,148.35 500.76,147.75 500.98,147.15 501.23,146.56 501.50,145.96 501.70,145.56 502.02,144.96 502.30,144.50 502.64,143.97 502.92,143.57 503.29,143.10 503.69,142.64 504.09,142.22 504.48,141.84 504.88,141.51 505.30,141.19 505.88,140.81 506.27,140.58 506.87,140.29 507.47,140.05 508.06,139.86 508.66,139.73 509.46,139.62 510.05,139.58 510.66,139.60 511.45,139.67 512.10,139.79 512.84,139.99 513.43,140.19 513.92,140.39 514.43,140.63 515.02,140.95 515.42,141.19 516.01,141.58 516.42,141.89 516.81,142.21 517.24,142.58 517.66,142.98 518.05,143.37 518.41,143.77 518.80,144.25 519.20,144.76 519.49,145.16 519.80,145.62 520.13,146.16 520.39,146.61 520.68,147.15 520.98,147.75 521.19,148.22 521.41,148.74 521.64,149.34 521.85,149.94 522.03,150.53 522.20,151.13 522.38,151.91 522.51,152.52 522.61,153.12 522.72,153.91 522.78,154.51 522.84,155.31 522.86,156.10 522.86,156.90 522.83,157.69 522.78,158.31 522.70,159.08 522.58,159.86 522.47,160.48 522.34,161.07 522.18,161.72 521.99,162.42 521.79,163.04 521.59,163.60 521.39,164.11 521.16,164.65 520.88,165.25 520.59,165.82 520.36,166.24 520.01,166.84 519.76,167.24 519.40,167.77 519.06,168.23 518.74,168.63 518.41,169.03 518.01,169.47 517.61,169.87 517.21,170.25 516.78,170.62 516.28,171.02 515.82,171.35 515.42,171.61 514.83,171.96 514.35,172.21 513.83,172.45 513.23,172.68 512.64,172.87 512.04,173.02 511.25,173.15Z" fill="#ff4000" stroke="#000" stroke-width="1.5"/>
<path d="M458.45,173.20 459.14,173.14 459.86,173.01 460.53,172.82 461.11,172.61 461.56,172.41 462.12,172.11 462.61,171.81 463.12,171.45 463.52,171.13 463.91,170.77 464.31,170.38 464.71,169.94 465.11,169.45 465.42,169.03 465.70,168.61 466.06,168.03 466.30,167.62 466.60,167.04 466.89,166.44 467.10,165.95 467.30,165.45 467.51,164.85 467.71,164.26 467.89,163.64 468.09,162.88 468.23,162.27 468.35,161.67 468.49,160.91 468.58,160.28 468.68,159.48 468.74,158.89 468.79,158.09 468.83,157.29 468.84,156.50 468.83,155.70 468.80,154.91 468.75,154.11 468.69,153.39 468.61,152.72 468.49,151.93 468.39,151.33 468.28,150.73 468.10,149.94 467.94,149.34 467.77,148.74 467.58,148.15 467.37,147.55 467.14,146.95 466.90,146.38 466.70,145.96 466.40,145.36 466.10,144.83 465.82,144.37 465.51,143.89 465.13,143.37 464.81,142.98 464.46,142.58 464.07,142.18 463.65,141.78 463.16,141.39 462.72,141.06 462.29,140.79 461.73,140.47 461.13,140.20 460.57,139.99 459.94,139.81 459.34,139.69 458.54,139.60 457.95,139.58 457.35,139.61 456.56,139.71 455.96,139.83 455.35,139.99 454.77,140.19 454.17,140.44 453.57,140.73 453.11,140.99 452.58,141.32 452.18,141.59 451.66,141.98 451.19,142.38 450.79,142.74 450.39,143.13 449.99,143.55 449.62,143.97 449.30,144.37 448.99,144.77 448.60,145.32 448.31,145.76 448.00,146.26 447.73,146.75 447.41,147.35 447.21,147.78 446.95,148.35 446.71,148.94 446.49,149.54 446.29,150.14 446.11,150.73 445.95,151.33 445.81,151.93 445.66,152.72 445.56,153.32 445.46,154.11 445.40,154.71 445.35,155.51 445.33,156.30 445.34,157.10 445.39,157.89 445.44,158.49 445.53,159.28 445.62,159.88 445.77,160.68 445.90,161.27 446.06,161.87 446.23,162.47 446.42,163.06 446.63,163.66 446.87,164.26 447.13,164.85 447.41,165.44 447.62,165.85 447.95,166.44 448.20,166.87 448.57,167.44 448.85,167.84 449.20,168.30 449.60,168.80 449.97,169.23 450.34,169.63 450.75,170.02 451.18,170.42 451.58,170.76 451.98,171.06 452.48,171.41 452.98,171.73 453.47,172.01 453.97,172.27 454.57,172.53 455.16,172.75 455.76,172.92 456.36,173.06 457.15,173.17 457.75,173.21Z" fill="#0000ff" stroke="#000" stroke-width="1.5"/>
<path d="M510.25,162.27 509.66,162.22 509.06,162.05 508.46,161.72 508.06,161.41 507.67,161.01 507.27,160.48 507.03,160.08 506.75,159.48 506.53,158.89 506.37,158.29 506.26,157.69 506.17,156.90 506.17,156.10 506.23,155.31 506.33,154.71 506.47,154.10 506.67,153.50 506.93,152.92 507.27,152.32 507.56,151.93 507.91,151.53 508.39,151.13 508.86,150.85 509.46,150.62 510.05,150.53 510.65,150.56 511.29,150.73 511.84,151.00 512.32,151.33 512.75,151.73 513.09,152.12 513.43,152.62 513.71,153.12 513.97,153.72 514.17,154.31 514.31,154.91 514.42,155.70 514.45,156.30 514.43,157.03 514.35,157.69 514.22,158.29 514.03,158.93 513.81,159.48 513.50,160.08 513.23,160.49 512.84,160.98 512.44,161.37 512.04,161.68 511.45,162.01 510.85,162.20Z" fill="#ff0000" stroke="#000" stroke-width="1.5"/>
<path d="M458.19,162.27 458.94,162.12 459.50,161.87 459.94,161.58 460.33,161.23 460.73,160.76 461.06,160.28 461.33,159.77 461.53,159.28 461.73,158.69 461.91,157.89 461.99,157.29 462.04,156.50 462.01,155.70 461.93,154.99 461.78,154.31 461.61,153.72 461.37,153.12 461.13,152.65 460.80,152.12 460.48,151.73 460.07,151.33 459.54,150.95 459.08,150.73 458.35,150.55 457.83,150.53 457.15,150.65 456.56,150.89 456.15,151.13 455.65,151.53 455.27,151.93 454.96,152.32 454.59,152.92 454.37,153.37 454.16,153.91 453.97,154.54 453.82,155.31 453.76,155.90 453.75,156.70 453.80,157.29 453.93,158.09 454.09,158.69 454.31,159.28 454.57,159.84 454.83,160.28 455.16,160.75 455.56,161.19 455.96,161.53 456.48,161.87 456.95,162.09 457.75,162.26Z" fill="#0000bf" stroke="#000" stroke-width="1.5"/>
<line x1="484.10" y1="76.80" x2="484.10" y2="235.40" stroke="#000" stroke-width="1.5"/>
<rect x="48.05" y="76.80" width="158.90" height="158.60" fill="none" stroke="#000" stroke-width="1.2"/>
<path d="M86.40,235.40v-1.8M86.40,76.80v1.8M48.05,197.20h1.8M206.95,197.20h-1.8" stroke="#000" stroke-width="0.9"/>
<path d="M127.50,235.40v-1.8M127.50,76.80v1.8M48.05,156.10h1.8M206.95,156.10h-1.8" stroke="#000" stroke-width="0.9"/>
<path d="M168.60,235.40v-1.8M168.60,76.80v1.8M48.05,115.00h1.8M206.95,115.00h-1.8" stroke="#000" stroke-width="0.9"/>
<text x="86.40" y="252.90" font-size="14.0" text-anchor="middle">-1</text>
<text x="127.50" y="252.90" font-size="14.0" text-anchor="middle">0</text>
<text x="168.60" y="252.90" font-size="14.0" text-anchor="middle">1</text>
<text x="105.20" y="270.7" font-size="16" letter-spacing="0.25">x/r</text>
<text x="123.90" y="279.1" font-size="12">c</text>
<text x="134.40" y="270.7" font-size="16" letter-spacing="0.3">[-]</text>
<rect x="53.95" y="82.00" width="26.1" height="22.3" fill="#fff"/>
<text x="56.75" y="97.30" font-size="17" font-weight="bold" style="stroke-width:0">(a)</text>
<rect x="226.15" y="76.80" width="158.90" height="158.60" fill="none" stroke="#000" stroke-width="1.2"/>
<path d="M264.50,235.40v-1.8M264.50,76.80v1.8M226.15,197.20h1.8M385.05,197.20h-1.8" stroke="#000" stroke-width="0.9"/>
<path d="M305.60,235.40v-1.8M305.60,76.80v1.8M226.15,156.10h1.8M385.05,156.10h-1.8" stroke="#000" stroke-width="0.9"/>
<path d="M346.70,235.40v-1.8M346.70,76.80v1.8M226.15,115.00h1.8M385.05,115.00h-1.8" stroke="#000" stroke-width="0.9"/>
<text x="264.50" y="252.90" font-size="14.0" text-anchor="middle">-1</text>
<text x="305.60" y="252.90" font-size="14.0" text-anchor="middle">0</text>
<text x="346.70" y="252.90" font-size="14.0" text-anchor="middle">1</text>
<text x="283.30" y="270.7" font-size="16" letter-spacing="0.25">x/r</text>
<text x="302.00" y="279.1" font-size="12">c</text>
<text x="312.50" y="270.7" font-size="16" letter-spacing="0.3">[-]</text>
<rect x="232.05" y="82.00" width="26.1" height="22.3" fill="#fff"/>
<text x="234.85" y="97.30" font-size="17" font-weight="bold" style="stroke-width:0">(b)</text>
<rect x="404.65" y="76.80" width="158.90" height="158.60" fill="none" stroke="#000" stroke-width="1.2"/>
<path d="M443.00,235.40v-1.8M443.00,76.80v1.8M404.65,197.20h1.8M563.55,197.20h-1.8" stroke="#000" stroke-width="0.9"/>
<path d="M484.10,235.40v-1.8M484.10,76.80v1.8M404.65,156.10h1.8M563.55,156.10h-1.8" stroke="#000" stroke-width="0.9"/>
<path d="M525.20,235.40v-1.8M525.20,76.80v1.8M404.65,115.00h1.8M563.55,115.00h-1.8" stroke="#000" stroke-width="0.9"/>
<text x="443.00" y="252.90" font-size="14.0" text-anchor="middle">-1</text>
<text x="484.10" y="252.90" font-size="14.0" text-anchor="middle">0</text>
<text x="525.20" y="252.90" font-size="14.0" text-anchor="middle">1</text>
<text x="461.80" y="270.7" font-size="16" letter-spacing="0.25">x/r</text>
<text x="480.50" y="279.1" font-size="12">c</text>
<text x="491.00" y="270.7" font-size="16" letter-spacing="0.3">[-]</text>
<rect x="410.55" y="82.00" width="26.1" height="22.3" fill="#fff"/>
<text x="413.35" y="97.30" font-size="17" font-weight="bold" style="stroke-width:0">(c)</text>
<text x="41.50" y="118.50" font-size="14.0" text-anchor="end">1</text>
<text x="41.50" y="159.60" font-size="14.0" text-anchor="end">0</text>
<text x="41.50" y="200.70" font-size="14.0" text-anchor="end">-1</text>
<g transform="translate(12.7,156.10) rotate(-90)"><text x="-21.8" y="0" font-size="16">y/r</text><text x="-3.6" y="8.4" font-size="12">c</text><text x="6.9" y="0" font-size="16" letter-spacing="0.3">[-]</text></g>
<rect x="48.30" y="22.2" width="23.06" height="24.10" fill="#0000ff"/>
<rect x="70.96" y="22.2" width="23.06" height="24.10" fill="#0080ff"/>
<rect x="93.61" y="22.2" width="23.06" height="24.10" fill="#00ffff"/>
<rect x="116.27" y="22.2" width="23.06" height="24.10" fill="#80ff80"/>
<rect x="138.93" y="22.2" width="23.06" height="24.10" fill="#ffff00"/>
<rect x="161.59" y="22.2" width="23.06" height="24.10" fill="#ff8000"/>
<rect x="184.24" y="22.2" width="23.06" height="24.10" fill="#ff0000"/>
<rect x="48.30" y="22.2" width="158.60" height="24.10" fill="none" stroke="#000" stroke-width="1.2"/>
<path d="M48.30,46.3v-1.8" stroke="#000" stroke-width="0.9"/>
<text x="48.30" y="61.70" font-size="12.0" text-anchor="middle">0</text>
<path d="M93.61,46.3v-1.8" stroke="#000" stroke-width="0.9"/>
<text x="93.61" y="61.70" font-size="12.0" text-anchor="middle">0.5</text>
<path d="M138.93,46.3v-1.8" stroke="#000" stroke-width="0.9"/>
<text x="138.93" y="61.70" font-size="12.0" text-anchor="middle">1</text>
<path d="M184.24,46.3v-1.8" stroke="#000" stroke-width="0.9"/>
<text x="184.24" y="61.70" font-size="12.0" text-anchor="middle">1.5</text>
<text transform="translate(107.6,14.5) scale(1.18,1)" font-size="12" font-family="Liberation Serif" font-style="italic" style="stroke-width:0.2px">ω</text>
<text x="121.0" y="14.2" font-size="13.3" letter-spacing="0.15">[1/s]</text>
<rect x="314.20" y="22.2" width="11.79" height="24.10" fill="#0000bf"/>
<rect x="325.59" y="22.2" width="11.79" height="24.10" fill="#0000ff"/>
<rect x="336.97" y="22.2" width="11.79" height="24.10" fill="#0040ff"/>
<rect x="348.36" y="22.2" width="11.79" height="24.10" fill="#0080ff"/>
<rect x="359.74" y="22.2" width="11.79" height="24.10" fill="#00bfff"/>
<rect x="371.13" y="22.2" width="11.79" height="24.10" fill="#00ffff"/>
<rect x="382.51" y="22.2" width="11.79" height="24.10" fill="#40ffbf"/>
<rect x="393.90" y="22.2" width="11.79" height="24.10" fill="#80ff80"/>
<rect x="405.29" y="22.2" width="11.79" height="24.10" fill="#bfff40"/>
<rect x="416.67" y="22.2" width="11.79" height="24.10" fill="#ffff00"/>
<rect x="428.06" y="22.2" width="11.79" height="24.10" fill="#ffbf00"/>
<rect x="439.44" y="22.2" width="11.79" height="24.10" fill="#ff8000"/>
<rect x="450.83" y="22.2" width="11.79" height="24.10" fill="#ff4000"/>
<rect x="462.21" y="22.2" width="11.79" height="24.10" fill="#ff0000"/>
<rect x="314.20" y="22.2" width="159.40" height="24.10" fill="none" stroke="#000" stroke-width="1.2"/>
<path d="M348.36,46.3v-1.8" stroke="#000" stroke-width="0.9"/>
<text x="349.86" y="61.70" font-size="12.0" text-anchor="middle">-2</text>
<path d="M393.90,46.3v-1.8" stroke="#000" stroke-width="0.9"/>
<text x="394.50" y="61.70" font-size="12.0" text-anchor="middle">0</text>
<path d="M439.44,46.3v-1.8" stroke="#000" stroke-width="0.9"/>
<text x="439.94" y="61.70" font-size="12.0" text-anchor="middle">2</text>
<text transform="translate(362.90,14.00) scale(1.15,1)" font-size="12.8" font-family="Liberation Serif" font-style="italic" style="stroke-width:0.2px">∂</text>
<text transform="translate(369.00,14.20) scale(0.95,1)" font-size="12" font-family="Liberation Serif" font-style="italic" style="stroke-width:0.2px">ω</text>
<text transform="translate(376.90,14.20) scale(1.0,1)" font-size="13.3" >/</text>
<text transform="translate(381.40,14.00) scale(1.15,1)" font-size="12.8" font-family="Liberation Serif" font-style="italic" style="stroke-width:0.2px">∂</text>
<text transform="translate(388.50,14.20) scale(1.0,1)" font-size="13.3" >t</text>
<text x="395.6" y="14.2" font-size="13.3" letter-spacing="0.15">[1/s</text>
<text x="416.75" y="7.0" font-size="9">2</text>
<text x="422.5" y="14.2" font-size="13.3">]</text>
<rect x="85.09" y="250.90" width="2.86" height="3.35" fill="#fff"/>
<rect x="89.99" y="250.90" width="2.74" height="3.35" fill="#fff"/>
<rect x="164.97" y="250.90" width="2.86" height="3.35" fill="#fff"/>
<rect x="169.86" y="250.90" width="2.74" height="3.35" fill="#fff"/>
<rect x="263.19" y="250.90" width="2.86" height="3.35" fill="#fff"/>
<rect x="268.09" y="250.90" width="2.74" height="3.35" fill="#fff"/>
<rect x="343.07" y="250.90" width="2.86" height="3.35" fill="#fff"/>
<rect x="347.96" y="250.90" width="2.74" height="3.35" fill="#fff"/>
<rect x="441.69" y="250.90" width="2.86" height="3.35" fill="#fff"/>
<rect x="446.59" y="250.90" width="2.74" height="3.35" fill="#fff"/>
<rect x="521.57" y="250.90" width="2.86" height="3.35" fill="#fff"/>
<rect x="526.46" y="250.90" width="2.74" height="3.35" fill="#fff"/>
<rect x="33.97" y="116.90" width="2.86" height="3.35" fill="#fff"/>
<rect x="38.86" y="116.90" width="2.74" height="3.35" fill="#fff"/>
<rect x="33.97" y="198.90" width="2.86" height="3.35" fill="#fff"/>
<rect x="38.86" y="198.90" width="2.74" height="3.35" fill="#fff"/>
<rect x="135.70" y="60.05" width="2.51" height="3.20" fill="#fff"/>
<rect x="140.07" y="60.05" width="2.41" height="3.20" fill="#fff"/>
<rect x="176.01" y="60.05" width="2.51" height="3.20" fill="#fff"/>
<rect x="180.38" y="60.05" width="2.41" height="3.20" fill="#fff"/>
<rect x="125.05" y="11.96" width="2.73" height="3.29" fill="#fff"/>
<rect x="129.76" y="11.96" width="2.62" height="3.29" fill="#fff"/>
<rect x="399.65" y="11.96" width="2.73" height="3.29" fill="#fff"/>
<rect x="404.36" y="11.96" width="2.62" height="3.29" fill="#fff"/>
</svg>
</body></html>
